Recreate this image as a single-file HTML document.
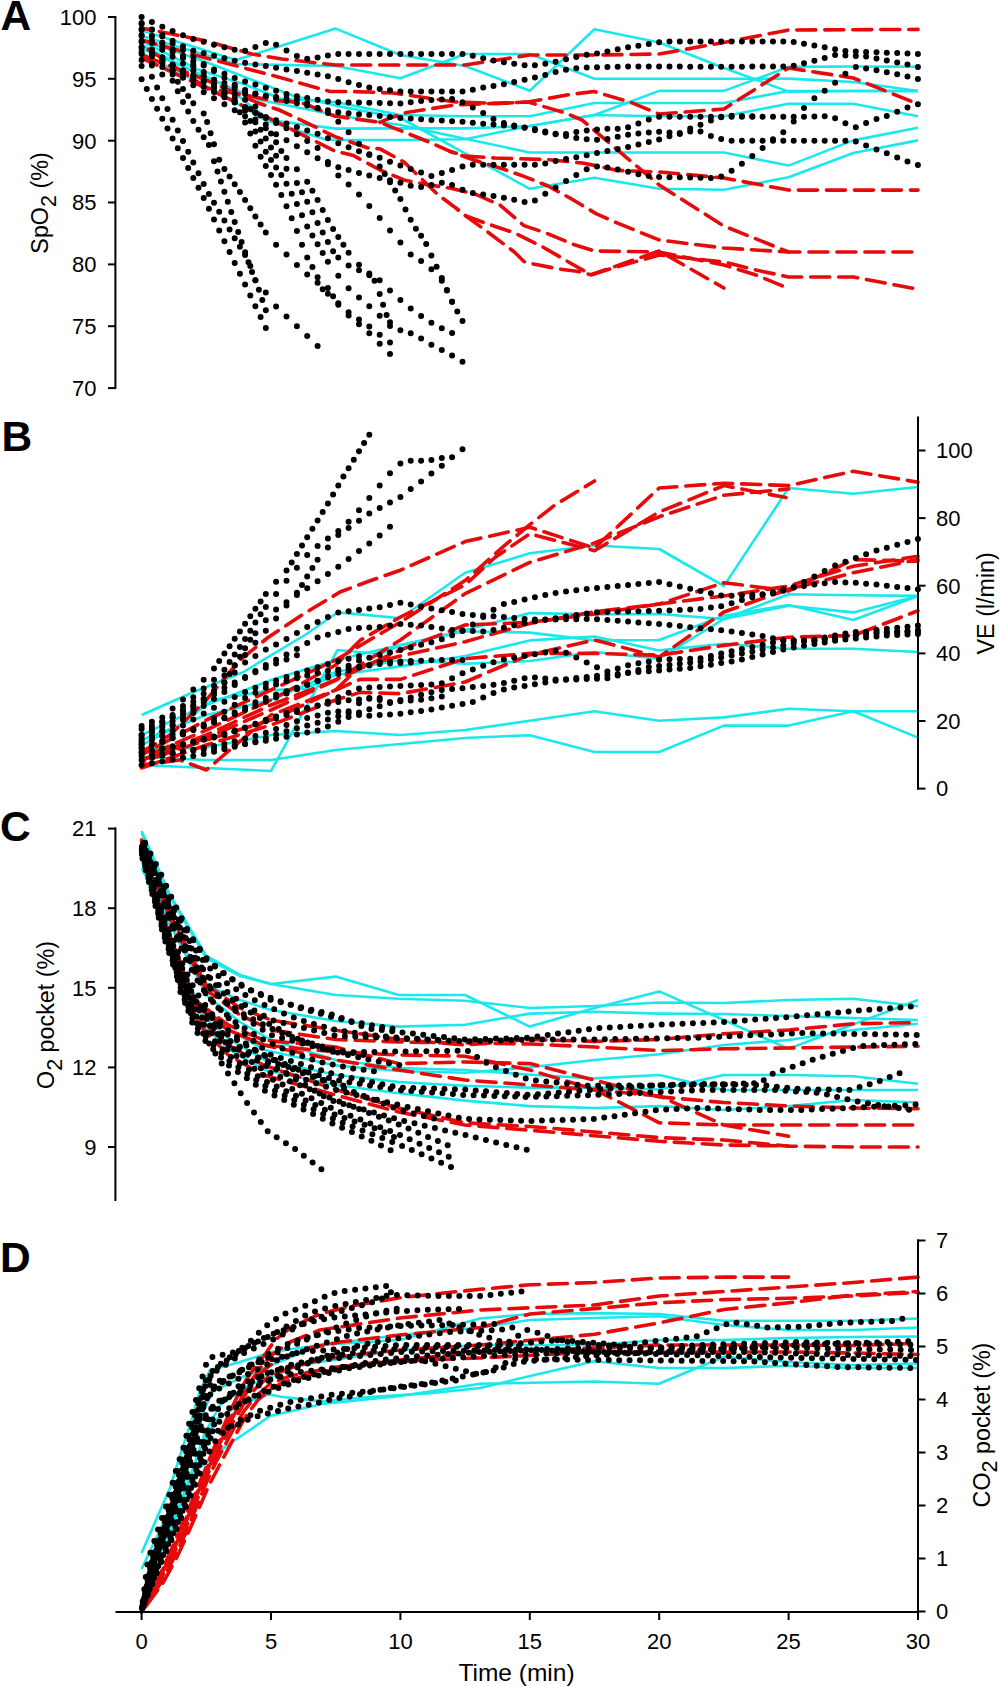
<!DOCTYPE html><html><head><meta charset="utf-8"><style>html,body{margin:0;padding:0;background:#fff;}svg{display:block;}text{font-family:"Liberation Sans",sans-serif;fill:#000;}</style></head><body>
<svg width="1000" height="1686" viewBox="0 0 1000 1686">
<rect width="1000" height="1686" fill="#fff"/>
<g fill="none" stroke="#19e8ec" stroke-width="2.6" stroke-linejoin="round">
<path d="M141.6,30.5 236,60 335.7,28.6 400.4,55 465.1,66 529.8,90.8 594.5,29.3 659.2,42.5 723.9,68 788.6,91.6 853.3,91 918,91"/>
<path d="M141.6,36 236,64 335.7,66 400.4,78.2 465.1,54 529.8,54 594.5,78.8 659.2,78.8 723.9,78.8 788.6,78.6 853.3,82 918,91"/>
<path d="M141.6,41 198,69.6 244,84.3 282,99 335.7,102 400.4,115 465.1,116.3 529.8,116.2 594.5,103 659.2,103 723.9,103 788.6,91 853.3,91 918,91"/>
<path d="M141.6,48.6 185,67.5 223,84.3 269,120 335.7,128.6 400.4,128.4 465.1,128.4 529.8,126 594.5,115 659.2,90.9 723.9,90.9 788.6,66.9 853.3,66.5 918,66.8"/>
<path d="M141.6,52.8 177,71.7 219,92.7 265,120 324,139 335.7,140 400.4,140 465.1,139.2 529.8,126 594.5,115 659.2,116.2 723.9,116.2 788.6,103.7 853.3,103.7 918,116.2"/>
<path d="M141.6,45 200,75 260,100 335.7,115 400.4,125 529.8,152.5 594.5,152.5 659.2,152.5 723.9,152.5 788.6,165.6 853.3,140.4 918,127.8"/>
<path d="M141.6,40 206,62 294,96 335.7,105.6 400.4,118 529.8,188.8 594.5,177.8 659.2,188.8 723.9,189.7 788.6,177.2 853.3,153 918,140.4"/>
<path d="M141.6,715 192.5,692.5 242.5,672.5 305,635 337.5,612.5 360,614.4 400.4,618.3 465.1,572.8 529.8,553.3 594.5,545.5 659.2,549 723.9,586 788.6,488 853.3,493.8 918,487"/>
<path d="M141.6,765 206.3,768 271,771 337.5,650 380,654 400.4,645.6 465.1,630 529.8,613.1 594.5,614.4 659.2,614 723.9,619 788.6,605.8 853.3,612.4 918,596"/>
<path d="M141.6,757 206.3,760 271,760 335.7,750 400.4,744 465.1,738 529.8,735.2 594.5,752 659.2,752 723.9,725.6 788.6,725.6 853.3,711.2 918,737.6"/>
<path d="M141.6,750 206.3,747.5 271,735 335.7,731 400.4,735 465.1,730 529.8,720.8 594.5,711.2 659.2,720.8 723.9,717.4 788.6,708.8 853.3,711.2 918,711.2"/>
<path d="M141.6,745 180,725 212.5,700 271,690 305,688.7 335.7,675 400.4,666.4 465.1,656 529.8,640.4 594.5,636.5 659.2,650.4 723.9,643.8 788.6,648.7 853.3,648.7 918,652"/>
<path d="M141.6,740 206.3,715 271,700 335.7,672 400.4,660 465.1,663.8 529.8,661 594.5,652 659.2,658.6 723.9,619 788.6,594.3 853.3,595.2 918,595.9"/>
<path d="M141.6,735 206.3,705 271,680 335.7,660 400.4,645 465.1,631.3 529.8,632.6 594.5,640.4 659.2,640 723.9,615.7 788.6,605 853.3,620 918,596"/>
<path d="M141.6,831 170,895 206.3,956 240,975 271,984 335.7,976.6 398.8,995 465,995 529.8,1026.6 594.5,1008 659.3,991.4 723.9,1020 788.6,1048.8 918,1000"/>
<path d="M141.6,833 170,897 206.3,958 240,976 271,984 335.7,995 398.8,998.8 465,1000.7 529.8,1008 594.5,1006 659.3,1002.5 723.9,1003 788.6,1000 853.3,998.8 918,1006.2"/>
<path d="M141.6,868 170,925 206.3,985 240,1000 271,1010 335.7,1021 398.8,1026.6 465,1024.7 529.8,1013.6 594.5,1011.8 659.3,1013.6 723.9,1014 788.6,1016 853.3,1018 918,1020"/>
<path d="M141.6,850 165.7,930 196.6,1000 230.2,1030 264.5,1050 335.7,1065.4 398.8,1071 465,1072.8 529.8,1067.3 594.5,1060 659.3,1054.3 723.9,1045 788.6,1040 853.3,1030 918,1023.8"/>
<path d="M141.6,855 165.7,935 196.6,1010 230.2,1040 264.5,1060 335.7,1074.7 398.8,1082 465,1085.8 529.8,1087.6 594.5,1087.6 659.3,1089.5 723.9,1075 788.6,1075 853.3,1076.2 918,1083.8"/>
<path d="M141.6,860 165.7,940 196.6,1020 230.2,1050 264.5,1070 335.7,1085 398.8,1093.2 465,1100.6 529.8,1106.1 594.5,1108 659.3,1106.1 723.9,1110 788.6,1106 853.3,1100 918,1102.5"/>
<path d="M141.6,845 170,925 206.3,995 240,1022 271,1040 335.7,1060 398.8,1068 465,1070 529.8,1074.7 594.5,1078.4 659.3,1075 723.9,1090 788.6,1090 853.3,1090 918,1090"/>
<path d="M141.6,1553 170,1488 178,1462 190,1425 200,1390 210,1370 240,1362 272,1352 320,1345 400,1340 480,1318.5 530,1314 594.3,1313.1 659,1314 724,1320.8 788.7,1320.8 853.5,1320.8 918,1318.5"/>
<path d="M141.6,1569 160,1530 176,1495 190,1474 202,1466 226,1446 250,1430 270,1416 322,1404 400,1396 480,1383.8 594.3,1381.5 659,1383.8 724,1356.8 788.7,1362 853.5,1365 918,1363.5"/>
<path d="M141.6,1600 165,1545 185,1490 200,1450 215,1420 240,1405 269,1394.4 281,1396.8 324,1401.6 344,1399.2 372,1396.8 430,1393.2 480,1388 530,1376 594.3,1361.3 659,1368 724,1368 788.7,1365.8 853.5,1368 918,1368"/>
<path d="M141.6,1605 165,1540 185,1480 200,1420 212,1392 240,1378 272,1365 320,1345 400,1335 480,1327.5 530,1320 594.3,1318 659,1316.3 724,1325 788.7,1330 853.5,1330 918,1327.5"/>
<path d="M141.6,1608 168,1540 188,1485 204,1435 220,1405 250,1385 300,1365 400,1350 480,1345 594.3,1345 659,1340 724,1340 788.7,1338 853.5,1337 918,1336.5"/>
</g>
<g fill="none" stroke="#e60a0a" stroke-width="3.6" stroke-dasharray="19 9" stroke-linecap="round" stroke-linejoin="round">
<path d="M141.6,28 206,41 252,54 282,59 335.7,65 465.1,65 529.8,55 594.5,55 659.2,54 723.9,42.5 788.6,30 918,29.4" stroke-dashoffset="10"/>
<path d="M141.6,40 206,58 271,75 330,91.5 351,91.5 393,93 435,99 456,102 498,103.5 528,102 570,94.5 594,91.5 630,102 659.2,114 723.9,109 788.6,68 853.3,78 918,104" stroke-dashoffset="4"/>
<path d="M449.6,151.2 465.1,156 495,158 548,159.6 584,163.2 617.6,170.4 659.2,172 723.9,178 788.6,190.1 918,190.1" stroke-dashoffset="12"/>
<path d="M141.6,45 207,88 272,100.4 291.2,101.6 305.6,104 324.8,112.4 334.4,116 380,122.4 404,132 428,141.6 449.6,151.2 476,160.8 500,168 524,176.4 548,186 572,199.2 596,213.6 617.6,223.2 659.2,240 723.9,248 788.6,252" stroke-dashoffset="20"/>
<path d="M380,122.4 390,118 406.5,112.5 454.5,105 528,102 564,112.5 582,120 659.2,185 723.9,226 788.6,252 918,252" stroke-dashoffset="1"/>
<path d="M141.6,58 206,88 272,119.6 315.2,141.2 334.4,150.8 353.6,155.6 380,170 404,180 428,184.8 452,188.4 476,194.4 500,205 524,225.6 545.6,232.8 574.4,244.8 594.5,251 659.2,252 723.9,265 756,275 782.7,286" stroke-dashoffset="2"/>
<path d="M141.6,55 206,80 257.6,102.8 279.2,110 315.2,126.8 334.4,136.4 368,148 380,148.8 404,162 437.6,194.4 456.8,208.8 466,216 485.6,223.2 514.4,232.8 543.2,247.2 572,264 591.2,274.8 610.4,268.8 659.2,255 723.9,262 756,270 788.6,277 853.3,277 918,289.3" stroke-dashoffset="26"/>
<path d="M456.8,208.8 466,216 485.6,230.4 504.8,244.8 514.4,252 524,261.6 533.6,264 557.6,268.8 576.8,271.2 591.2,274.8 659.2,251 723.9,288" stroke-dashoffset="17"/>
<path d="M141.6,752 170,735 206.3,700 240,660 268,637.5 305,613 340,592 368,581.5 400.4,570.2 465.1,541.6 529.8,527.3 594.5,548 659.2,488 723.9,483.2 788.6,485.6 853.3,471.2 918,482.2" stroke-dashoffset="3"/>
<path d="M141.6,755 206.3,720 271,690 335.7,660 360,645.6 400.4,622.2 465.1,580.6 503,546.8 529.8,524.7 555,505 594.5,481" stroke-dashoffset="11"/>
<path d="M141.6,758 206.3,730 271,700 335.7,665 360,640.4 400.4,617 465.1,585 495.2,557.2 529.8,533.8 594.5,550.7 659.2,512 723.9,485.6 786,497.6" stroke-dashoffset="18"/>
<path d="M141.6,760 206.3,735 271,705 335.7,680 400.4,640 465.1,593.6 529.8,562.4 594.5,543 659.2,516.8 723.9,495.2 788.6,489" stroke-dashoffset="1"/>
<path d="M141.6,762 206.3,740 271,720 335.7,690 360,666.4 400.4,656 465.1,641.7 529.8,623.5 594.5,611.8 659.2,604 723.9,596 788.6,586 853.3,566.2 918,556.3" stroke-dashoffset="16"/>
<path d="M141.6,765 180,760 206.3,770 271,715 335.7,690 360,679.4 400.4,679.4 465.1,658.6 529.8,653.4 594.5,653.4 659.2,655.3 723.9,645.4 788.6,637.2 853.3,635.5 918,610.8" stroke-dashoffset="6"/>
<path d="M141.6,768 206.3,745 271,725 335.7,700 360,692.4 400.4,693.7 465.1,682 505,665 529.8,654.7 594.5,640 659.2,657 723.9,612 788.6,589.3 853.3,572.8 918,559.6" stroke-dashoffset="1"/>
<path d="M141.6,760 206.3,738 271,710 335.7,680 400.4,650 465.1,625 529.8,622.4 594.5,614 659.2,604 723.9,582.7 788.6,591 853.3,559.6 918,561.3" stroke-dashoffset="2"/>
<path d="M141.6,840 170,915 206.3,985 240,1008 271,1020 335.7,1030.3 398.8,1039.5 465,1045 529.8,1039.5 594.5,1041.4 659.3,1039.5 723.9,1033.8 788.6,1030 853.3,1023.8 918,1022.5" stroke-dashoffset="13"/>
<path d="M141.6,842 170,918 206.3,990 240,1015 271,1030 335.7,1039.5 398.8,1042 465,1043 529.8,1044 594.5,1047 659.3,1050.6 723.9,1048.8 788.6,1048 853.3,1047 918,1046.2" stroke-dashoffset="13"/>
<path d="M141.6,845 164.9,922 194.7,1000 228.2,1025 263.2,1040 335.7,1047 398.8,1063.6 465,1062 529.8,1063.6 594.5,1080.2 659.3,1096.9 723.9,1102.5 788.6,1106 853.3,1108 918,1108.8" stroke-dashoffset="2"/>
<path d="M141.6,848 164.9,925 194.7,1005 228.2,1030 263.2,1045 335.7,1052 398.8,1055 465,1056.2 529.8,1070 594.5,1089.5 659.3,1122.8 723.9,1125 788.6,1125 853.3,1125 918,1125" stroke-dashoffset="7"/>
<path d="M141.6,850 164.9,930 194.7,1015 228.2,1045 263.2,1065 335.7,1089.5 398.8,1108 465,1122.8 529.8,1126.5 594.5,1132 659.3,1137.6 723.9,1140 788.6,1146.2 853.3,1147 918,1147" stroke-dashoffset="2"/>
<path d="M141.6,852 164.9,935 194.7,1020 228.2,1055 263.2,1075 335.7,1095 398.8,1112 465,1125 529.8,1130.2 594.5,1135.7 659.3,1141.3 723.9,1145 788.6,1146" stroke-dashoffset="17"/>
<path d="M141.6,846 164.9,925 194.7,1000 228.2,1030 263.2,1045 335.7,1060 398.8,1070 465,1080 529.8,1085 594.5,1090 659.3,1096 723.9,1125 788.6,1136.2" stroke-dashoffset="13"/>
<path d="M141.6,1612 160,1575 172,1548 184,1520 195,1494 205,1470 214,1448 222,1430 230,1412 238,1395 246,1380 256,1366 266,1353 275,1340 290,1328 320,1314 353,1305.6 403.6,1297.2 480,1289.3 530,1284.8 594.3,1282.5 659,1278 724,1277.1 788.7,1277.1" stroke-dashoffset="1"/>
<path d="M141.6,1612 160,1576 173,1548 185,1521 196,1495 206,1471 215,1450 224,1432 233,1414 242,1397 251,1381 261,1367 273,1354 290,1342 320,1330 400,1318 480,1310 594.3,1305 659,1296 724,1291.5 788.7,1287 853.5,1282.5 918,1277.1" stroke-dashoffset="26"/>
<path d="M141.6,1612 160,1577 174,1549 186,1522 196,1497 206,1474 215,1453 224,1435 233,1417 242,1400 252,1384 264,1370 280,1358 310,1348 340,1342 400,1335 480,1327.5 530,1314 594.3,1308.6 659,1302.8 724,1299.6 788.7,1298.3 853.5,1296 918,1292.4" stroke-dashoffset="18"/>
<path d="M141.6,1612 161,1579 175,1551 187,1525 197,1500 206,1478 215,1458 224,1440 233,1422 243,1405 254,1390 268,1377 290,1368 320,1360 360,1354 400,1350 480,1345 594.3,1334.3 659,1323 724,1309.5 788.7,1302.8 853.5,1295 918,1291.5" stroke-dashoffset="3"/>
<path d="M141.6,1612 162,1581 176,1554 188,1528 198,1503 207,1481 216,1462 225,1445 234,1428 244,1411 256,1396 270,1384 290,1376 330,1368 380,1362 420,1358 480,1352 594.3,1348 659,1345 724,1345 788.7,1345 853.5,1345.5 918,1343.3" stroke-dashoffset="7"/>
<path d="M141.6,1612 163,1583 177,1557 189,1531 200,1506 209,1485 218,1468 227,1451 236,1434 246,1416 258,1400 272,1388 290,1380 320,1372 370,1364 420,1360 480,1358 594.3,1352 659,1352 724,1352 788.7,1352 853.5,1353 918,1354.5" stroke-dashoffset="20"/>
</g>
<g fill="none" stroke="#000" stroke-width="6" stroke-linecap="round">
<path d="M141.6,79.2h0M146.8,89.1h0M151.9,98.9h0M157.1,108.8h0M162.3,118.7h0M167.5,128.5h0M172.6,138.4h0M177.8,148.3h0M183,158.1h0M188.2,168h0M193.3,177.9h0M198.5,187.7h0M203.7,198h0M208.9,208.8h0M214,219.6h0M219.2,230.4h0M224.4,241.3h0M229.6,252.1h0M234.7,262.9h0M239.9,273.8h0M245.1,284.6h0M250.3,295.4h0M255.4,306.2h0M260.6,317.1h0M265.8,327.9h0"/>
<path d="M141.6,66h0M151.9,76.8h0M157.1,87.5h0M162.3,98.2h0M167.5,108.9h0M172.6,119.7h0M177.8,130.4h0M183,141.1h0M188.2,151.8h0M193.3,162.6h0M198.5,173.3h0M203.7,184h0M208.9,193.9h0M214,202.8h0M219.2,211.7h0M224.4,220.6h0M229.6,229.4h0M234.7,238.3h0M239.9,246.8h0M245.1,255.1h0M250.3,266h0M255.4,280.2h0M258.9,289.7h0M262.3,299.9h0M265.8,310.3h0"/>
<path d="M141.6,54h0M151.9,65.4h0M162.3,74.6h0M172.6,80.7h0M177.8,91.2h0M183,102h0M188.2,111.5h0M193.3,120.9h0M198.5,129.7h0M203.7,137.3h0M208.9,145h0M214,161.2h0M217.5,171.5h0M220.9,181.6h0M224.4,191.7h0M227.8,201.8h0M231.3,211.9h0M234.7,221.9h0M238.2,232h0M241.6,242.1h0M245.1,252.2h0M248.5,262.3h0M252,272h0M255.4,280.3h0M265.8,292.5h0M276.1,306.6h0M286.5,316.4h0M296.9,326.3h0M307.2,336.1h0M317.6,346h0"/>
<path d="M141.6,41h0M151.9,51.6h0M162.3,62.2h0M172.6,74.5h0M177.8,81.7h0M183,88.9h0M188.2,96.1h0M193.3,103.3h0M203.7,113.4h0M207.1,122h0M210.6,133.2h0M214,144.3h0M219.2,159.8h0M224.4,168.9h0M229.6,176.6h0M234.7,184.2h0M239.9,191.9h0M245.1,200.1h0M250.3,208.3h0M255.4,216.4h0M260.6,224.4h0M265.8,232.4h0M276.1,244.7h0M286.5,254.6h0M296.9,265.1h0M307.2,274.4h0M317.6,282.8h0M327.9,288h0M333.1,296.2h0M338.3,304.8h0M348.6,315.4h0M359,324.2h0M369.3,333.3h0M379.7,343.7h0M390,353.9h0"/>
<path d="M141.6,29h0M151.9,36h0M162.3,43h0M172.6,50h0M183,57.6h0M193.3,66.4h0M203.7,75.3h0M214,84.2h0M224.4,92.5h0M234.7,101.9h0M239.9,112.2h0M245.1,122.6h0M250.3,133.6h0M255.4,145.7h0M260.6,156.8h0M265.8,165.9h0M271,175h0M276.1,184.7h0M281.3,195.1h0M286.5,206.2h0M291.7,218.2h0M296.9,230.9h0M302,244.7h0M307.2,257.4h0M312.4,267.1h0M317.6,277.2h0M322.7,289.3h0M327.9,293.8h0M338.3,303.2h0M348.6,312.2h0M359,319.6h0M369.3,326.6h0M379.7,334.7h0M390,342.6h0"/>
<path d="M141.6,35h0M151.9,40.8h0M162.3,46.5h0M172.6,52.3h0M183,58.1h0M193.3,64.5h0M203.7,72.1h0M214,79.7h0M224.4,87.3h0M234.7,93.8h0M245.1,99.7h0M250.3,109.1h0M255.4,119.5h0M260.6,129.7h0M265.8,138.6h0M271,147.4h0M276.1,155.7h0M286.5,168.7h0M296.9,182.9h0M302,192.3h0M307.2,201.8h0M312.4,212.3h0M317.6,222.9h0M322.7,232.6h0M327.9,241.9h0M333.1,251.3h0M338.3,257.5h0M348.6,265.5h0M359,270.3h0M369.3,273.4h0M379.7,280.3h0M390,290.5h0M400.4,300.1h0M410.7,308.4h0M421.1,316h0M431.4,322.8h0M441.8,328.3h0M452.1,333h0"/>
<path d="M141.6,23h0M151.9,29.8h0M162.3,36.6h0M172.6,43.4h0M183,50.1h0M193.3,56.9h0M203.7,63.9h0M214,70.9h0M224.4,77.8h0M234.7,84.8h0M245.1,94h0M255.4,106.4h0M260.6,115.4h0M265.8,124.5h0M271,133.4h0M276.1,142.3h0M281.3,151.1h0M286.5,157.9h0M296.9,169.3h0M307.2,181.7h0M312.4,190.8h0M317.6,200h0M322.7,210h0M327.9,220h0M333.1,229.1h0M338.3,237h0M343.4,244.8h0M348.6,252.7h0M359,264.8h0M369.3,275.2h0M374.5,280.7h0M379.7,294.1h0M383.1,304.8h0M386.6,315.1h0M390,322.2h0M400.4,330.2h0M410.7,333.2h0M421.1,338.5h0M431.4,344.7h0M441.8,350.1h0M452.1,355.5h0M462.5,361.7h0"/>
<path d="M141.6,47h0M151.9,52.8h0M162.3,58.7h0M172.6,64.5h0M183,70.4h0M193.3,76.2h0M203.7,82.2h0M214,88.4h0M224.4,94.6h0M234.7,100.8h0M245.1,107.1h0M255.4,112.7h0M265.8,117.9h0M276.1,123.1h0M286.5,128.2h0M296.9,134.3h0M307.2,140.9h0M317.6,148.1h0M327.9,161.9h0M338.3,175.6h0M348.6,184.5h0M359,194.4h0M369.3,206.1h0M379.7,218.1h0M390,230.6h0M400.4,242.6h0M410.7,254.4h0M421.1,261.1h0M431.4,269.3h0M441.8,280.7h0M446.9,290.5h0M452.1,301.7h0M457.3,311.5h0M462.5,321.1h0"/>
<path d="M141.6,60h0M151.9,63.5h0M162.3,67.1h0M172.6,70.6h0M183,74.2h0M193.3,77.7h0M203.7,80.9h0M214,83.5h0M224.4,86.1h0M234.7,88.7h0M245.1,91.3h0M255.4,93.9h0M265.8,95.7h0M276.1,97h0M286.5,98.3h0M296.9,99.6h0M307.2,103.3h0M317.6,108.2h0M327.9,113h0M338.3,121.7h0M348.6,132.3h0M359,143.7h0M369.3,155.1h0M379.7,166.5h0M384.8,173.9h0M390,182.2h0M395.2,190.4h0M400.4,199.1h0M405.5,209.5h0M410.7,219.8h0M415.9,228.8h0M421.1,235.7h0M426.2,244h0M431.4,255.4h0M436.6,266.7h0M441.8,278.1h0M446.9,289.9h0M452.1,301.7h0"/>
<path d="M141.6,52h0M151.9,56.6h0M162.3,61.2h0M172.6,65.8h0M183,70.4h0M193.3,75h0M203.7,80.2h0M214,86.5h0M224.4,92.8h0M234.7,97.9h0M245.1,110.8h0M250.3,121.1h0M255.4,131.5h0M260.6,141.6h0M265.8,151.8h0M271,160h0M276.1,167.6h0M281.3,175.1h0M286.5,183.8h0M291.7,193.7h0M296.9,204h0M302,215.3h0M307.2,226.5h0M312.4,235.4h0M317.6,244.2h0M322.7,253h0M327.9,261.8h0M338.3,275.7h0M348.6,288.3h0M359,297.5h0M369.3,306.3h0M379.7,315.7h0M390,326h0"/>
<path d="M141.6,17h0M151.9,21.9h0M162.3,26.7h0M172.6,31.1h0M183,35.2h0M193.3,38.9h0M203.7,41.8h0M214,44.7h0M224.4,47.2h0M234.7,49.7h0M245.1,50.7h0M255.4,47.1h0M265.8,43h0M276.1,44.8h0M286.5,50.5h0M296.9,56.1h0M307.2,58.8h0M317.6,57.5h0M327.9,55.5h0M338.3,54h0M348.6,54h0M359,54h0M369.3,54h0M379.7,54h0M390,54h0M400.4,54h0M410.7,54h0M421.1,54h0M431.4,54h0M441.8,54h0M452.1,54h0M462.5,54h0M472.8,55.8h0M483.2,58.3h0M493.5,60.5h0M503.9,62.3h0M514.2,63.8h0M524.6,65.3h0M534.9,65.2h0M545.3,63.7h0M555.6,61.8h0M566,59.3h0M576.3,56.9h0M586.7,54.8h0M597,53.4h0M607.4,51.6h0M617.7,49.3h0M628.1,47.3h0M638.4,45.7h0M648.8,44h0M659.1,42.3h0M669.5,41.4h0M679.8,41.4h0M690.2,41.4h0M700.5,41.4h0M710.9,41.4h0M721.2,41.4h0M731.6,41.5h0M741.9,41.5h0M752.3,41.5h0M762.6,41.5h0M773,41.5h0M783.3,41.5h0M793.7,42.1h0M804,43.8h0M814.4,45.6h0M824.7,47.3h0M835.1,49.2h0M845.4,51h0M855.8,51.4h0M866.1,51.9h0M876.5,52.3h0M886.8,52.7h0M897.2,53.1h0M907.5,53.6h0M917.9,54h0"/>
<path d="M141.6,24h0M151.9,29.6h0M162.3,35.1h0M172.6,40.7h0M183,46.2h0M193.3,50.8h0M203.7,53.3h0M214,55.8h0M224.4,58.3h0M234.7,60.7h0M245.1,62.8h0M255.4,64.5h0M265.8,66.1h0M276.1,67.8h0M286.5,69.4h0M296.9,71.1h0M307.2,72.8h0M317.6,74.5h0M327.9,76.2h0M338.3,79.1h0M348.6,82.3h0M359,84.9h0M369.3,87.4h0M379.7,89h0M390,90.3h0M400.4,91.5h0M410.7,91.5h0M421.1,91.5h0M431.4,91.5h0M441.8,91.5h0M452.1,91.5h0M462.5,91.5h0M472.8,89.7h0M483.2,87.6h0M493.5,86.1h0M503.9,84.2h0M514.2,82h0M524.6,79.8h0M534.9,77.6h0M545.3,75h0M555.6,72h0M566,69.8h0M576.3,68.3h0M586.7,67.4h0M597,67.2h0M607.4,67h0M617.7,66.8h0M628.1,66.6h0M638.4,66.6h0M648.8,66.6h0M659.1,66.6h0M669.5,66.6h0M679.8,66.6h0M690.2,66.7h0M700.5,66.7h0M710.9,66.7h0M721.2,66.7h0M731.6,66.7h0M741.9,66.7h0M752.3,66.6h0M762.6,66.5h0M773,66.4h0M783.3,66.4h0M793.7,65.7h0M804,63.3h0M814.4,60.8h0M824.7,57.9h0M835.1,55h0M845.4,55.5h0M855.8,55.9h0M866.1,56.5h0M876.5,58.5h0M886.8,60.5h0M897.2,62.5h0M907.5,64.4h0M917.9,67h0"/>
<path d="M141.6,30h0M151.9,36.4h0M162.3,42.8h0M172.6,49.2h0M183,55.7h0M193.3,61.3h0M203.7,65.5h0M214,69.6h0M224.4,73.8h0M234.7,77.9h0M245.1,81.5h0M255.4,84.6h0M265.8,87.7h0M276.1,90.8h0M286.5,94h0M296.9,96.2h0M307.2,98h0M317.6,99.8h0M327.9,101.6h0M338.3,102.2h0M348.6,102.4h0M359,102.6h0M369.3,102.8h0M379.7,103.1h0M390,103.3h0M400.4,103.5h0M410.7,102.3h0M421.1,101h0M431.4,99.9h0M441.8,99.5h0M452.1,99.1h0M462.5,102.2h0M472.8,107.4h0M483.2,113h0M493.5,118.9h0M503.9,122.9h0M514.2,125.4h0M524.6,127.8h0M534.9,130.2h0M545.3,132.5h0M555.6,134.2h0M566,133.9h0M576.3,132h0M586.7,130.5h0M597,129.4h0M607.4,128.8h0M617.7,128.8h0M628.1,127.2h0M638.4,123.6h0M648.8,119.5h0M659.1,116.8h0M669.5,116.8h0M679.8,116.8h0M690.2,116.8h0M700.5,116.8h0M710.9,116.8h0M721.2,116.8h0M731.6,116.8h0M741.9,116.8h0M752.3,116.8h0M762.6,116.8h0M773,116.8h0M783.3,116.8h0M793.7,116.8h0M804,116.7h0M814.4,116.5h0M824.7,116.2h0M835.1,118.3h0M845.4,123.2h0M855.8,127.3h0M866.1,123.1h0M876.5,119.1h0M886.8,115.9h0M897.2,111.7h0M907.5,107.6h0M917.9,104.3h0"/>
<path d="M141.6,36h0M151.9,42.9h0M162.3,49.8h0M172.6,56.7h0M183,63.6h0M193.3,70.6h0M203.7,76.2h0M214,79.7h0M224.4,83.1h0M234.7,86.6h0M245.1,90h0M255.4,93.5h0M265.8,96.3h0M276.1,98.6h0M286.5,101h0M296.9,103.3h0M307.2,105.6h0M317.6,107.9h0M327.9,110.2h0M338.3,112.2h0M348.6,113.2h0M359,114.2h0M369.3,115.1h0M379.7,116.1h0M390,117h0M400.4,118h0M410.7,118.6h0M421.1,119.3h0M431.4,119.9h0M441.8,120.6h0M452.1,121.2h0M462.5,121.8h0M472.8,122.7h0M483.2,123.7h0M493.5,124.6h0M503.9,125.6h0M514.2,126.6h0M524.6,127.5h0M534.9,129.1h0M545.3,131.5h0M555.6,133.8h0M566,136h0M576.3,138h0M586.7,139.2h0M597,139.7h0M607.4,139h0M617.7,136.7h0M628.1,134.7h0M638.4,133.6h0M648.8,132.6h0M659.1,131.7h0M669.5,132.5h0M679.8,133.1h0M690.2,128.6h0M700.5,124.8h0M710.9,120.5h0M721.2,117.3h0M731.6,115.7h0M741.9,116h0M752.3,116.3h0"/>
<path d="M141.6,42h0M151.9,49.6h0M162.3,57.2h0M172.6,64.9h0M183,72.5h0M193.3,80.1h0M203.7,86.8h0M214,92h0M224.4,97.2h0M234.7,102.4h0M245.1,107.5h0M255.4,112.7h0M265.8,116.9h0M276.1,120.3h0M286.5,123.6h0M296.9,127h0M307.2,130.4h0M317.6,133.7h0M327.9,138.3h0M338.3,143.2h0M348.6,147.3h0M359,151.2h0M369.3,154.3h0M379.7,157.8h0M390,161.7h0M400.4,165.5h0M410.7,169h0M421.1,172.5h0M431.4,175.9h0M441.8,173.1h0M452.1,170.1h0M462.5,166.4h0M472.8,164.8h0M483.2,164.8h0M493.5,164.8h0M503.9,164.8h0M514.2,164.8h0M524.6,164.8h0M534.9,164.8h0M545.3,163.5h0M555.6,161.1h0M566,159h0M576.3,157.3h0M586.7,155.3h0M597,153h0M607.4,150.9h0M617.7,149h0M628.1,147h0M638.4,144.5h0M648.8,142.1h0M659.1,139.4h0M669.5,136.3h0M679.8,134h0M690.2,131.6h0M700.5,131.6h0M710.9,135.9h0M721.2,139.1h0M731.6,140.8h0M741.9,140.8h0M752.3,140.8h0M762.6,140.8h0M773,140.8h0M783.3,140.8h0M793.7,140.8h0M804,140.8h0M814.4,140.8h0M824.7,140.8h0M835.1,140.8h0M845.4,140.8h0M855.8,141.5h0M866.1,145.4h0M876.5,149.6h0M886.8,153.3h0M897.2,157.5h0M907.5,161.6h0M917.9,165.1h0"/>
<path d="M141.6,48h0M151.9,55.4h0M162.3,62.9h0M172.6,70.3h0M183,77.8h0M193.3,85.2h0M203.7,92.2h0M214,98.2h0M224.4,104.2h0M234.7,110.3h0M245.1,116.3h0M255.4,122.3h0M265.8,128.3h0M276.1,134.3h0M286.5,140.3h0M296.9,146.3h0M307.2,152.2h0M317.6,158.2h0M327.9,164.2h0M338.3,167.3h0M348.6,170h0M359,172.9h0M369.3,175.6h0M379.7,177.9h0M390,180.2h0M400.4,182.7h0M410.7,185.8h0M421.1,187.1h0M431.4,185.1h0M441.8,182.7h0M452.1,185h0M462.5,189.8h0M472.8,192.9h0M483.2,194.4h0M493.5,196h0M503.9,197.7h0M514.2,199.7h0M524.6,201.9h0M534.9,200.5h0M545.3,193.8h0M555.6,187.4h0M566,181h0M576.3,175.1h0M586.7,169.2h0M597,166.5h0M607.4,167.6h0M617.7,169.4h0M628.1,171.8h0M638.4,174.2h0M648.8,176h0M659.1,176.9h0M669.5,177.2h0M679.8,177.3h0M690.2,177.5h0M700.5,177.7h0M710.9,177.9h0M721.2,176.4h0M731.6,170.7h0M741.9,163.8h0M752.3,156h0M762.6,148h0M773,139.3h0M783.3,132.3h0M793.7,121.4h0M804,108h0M814.4,98.3h0M824.7,90.7h0M835.1,82.7h0M845.4,73.8h0M855.8,67h0M866.1,68.6h0M876.5,70.3h0M886.8,72.2h0M897.2,74.3h0M907.5,76.6h0M917.9,79h0"/>
<path d="M141.6,726h0M151.9,721.8h0M162.3,717.6h0M172.6,708.6h0M183,699.5h0M193.3,689.6h0M203.7,679.7h0M214,668.5h0M219.2,661.1h0M224.4,653.6h0M229.6,646.2h0M234.7,638.8h0M239.9,631.4h0M245.1,623.8h0M250.3,616.3h0M255.4,608.8h0M260.6,601.4h0M265.8,593.9h0M276.1,581.7h0M286.5,570.4h0M291.7,562.5h0M296.9,554h0M302,545.6h0M307.2,537.2h0M312.4,528.8h0M317.6,520.5h0M322.7,512.1h0M327.9,503.5h0M333.1,494.5h0M338.3,485.6h0M343.4,476.6h0M348.6,468.2h0M353.8,459.7h0M359,451.3h0M364.1,442.9h0M369.3,434.8h0"/>
<path d="M141.6,735h0M151.9,728.3h0M162.3,721.6h0M172.6,714.9h0M183,706.1h0M193.3,697.3h0M203.7,688.5h0M214,679.7h0M224.4,669.7h0M229.6,662.1h0M234.7,654.5h0M239.9,646.9h0M245.1,639.1h0M250.3,630.8h0M255.4,622.5h0M260.6,614.3h0M265.8,607.1h0M276.1,594h0M286.5,580.8h0M296.9,567.7h0M307.2,555.1h0M317.6,546h0M327.9,538.4h0M338.3,531h0M348.6,521.7h0M359,510.3h0M369.3,498h0M379.7,485.6h0M390,473.2h0M400.4,463.4h0M410.7,460.8h0M421.1,460.8h0M431.4,459.9h0M441.8,458.1h0M452.1,457.3h0M462.5,449.3h0"/>
<path d="M141.6,740h0M151.9,732.5h0M162.3,724.9h0M172.6,717.4h0M183,709.7h0M193.3,701.7h0M203.7,693.7h0M214,685.7h0M224.4,675.6h0M234.7,665.2h0M245.1,654.9h0M255.4,642.8h0M265.8,630.7h0M276.1,618.6h0M286.5,605.6h0M296.9,592.7h0M302,585h0M307.2,576.6h0M312.4,568.1h0M317.6,559.7h0M327.9,547.4h0M338.3,535.1h0M348.6,527.9h0M359,520.8h0M369.3,513.6h0M379.7,508.1h0M390,502.6h0M400.4,496.9h0M410.7,489.1h0M421.1,481.4h0M431.4,473.6h0M441.8,465.8h0"/>
<path d="M141.6,745h0M151.9,738.3h0M162.3,731.5h0M172.6,724.8h0M183,717.8h0M193.3,710h0M203.7,702.2h0M214,694.5h0M224.4,682.7h0M229.6,674h0M234.7,665.4h0M239.9,656.8h0M245.1,648.2h0M250.3,639.7h0M255.4,633.2h0M265.8,620.3h0M276.1,609.4h0M286.5,602.2h0M296.9,595.1h0M307.2,588.2h0M317.6,581.2h0M327.9,574.1h0M338.3,566.7h0M348.6,558.9h0M359,551.1h0M369.3,543.4h0M379.7,535.4h0M390,526.8h0"/>
<path d="M141.6,735h0M151.9,731.3h0M162.3,727.6h0M172.6,721.2h0M183,714.6h0M193.3,706.7h0M203.7,698.8h0M214,690.7h0M224.4,682.6h0M234.7,672.5h0M245.1,662.4h0M255.4,656h0M265.8,649.6h0M276.1,644.4h0M286.5,639.1h0M296.9,632.9h0M307.2,626.9h0M317.6,622h0M327.9,617.1h0M338.3,612.4h0M348.6,611.2h0M359,609.9h0M369.3,608.6h0M379.7,607.3h0M390,605h0M400.4,602.7h0M410.7,604.6h0M421.1,606.5h0M431.4,608.4h0M441.8,610.3h0M452.1,612.1h0M462.5,613.9h0M472.8,614.9h0M483.2,615.6h0M493.5,616.3h0M503.9,616.9h0M514.2,618h0M524.6,619h0M534.9,619.6h0M545.3,619.5h0M555.6,619.4h0M566,619.3h0M576.3,619.2h0M586.7,619.1h0M597,619.2h0M607.4,620h0M617.7,620.8h0M628.1,621.6h0M638.4,622.4h0M648.8,623.2h0M659.1,624h0M669.5,625.1h0M679.8,626.1h0M690.2,627.2h0M700.5,628.2h0M710.9,629.2h0M721.2,630.2h0M731.6,631.6h0M741.9,633h0M752.3,634.4h0M762.6,636.1h0M773,638.3h0M783.3,640.5h0M793.7,640.5h0M804,640.5h0M814.4,640.5h0M824.7,639.2h0M835.1,637.9h0M845.4,636.6h0M855.8,635.1h0M866.1,632.4h0M876.5,629.9h0M886.8,628.8h0M897.2,627.8h0M907.5,626.7h0M917.9,625.6h0"/>
<path d="M141.6,742h0M151.9,736.6h0M162.3,731.2h0M172.6,725.8h0M183,720h0M193.3,713h0M203.7,706h0M214,699h0M224.4,692h0M234.7,685h0M245.1,678.1h0M255.4,671.1h0M265.8,665h0M276.1,659.7h0M286.5,654.4h0M296.9,649h0M307.2,643.1h0M317.6,637.4h0M327.9,634.8h0M338.3,631.9h0M348.6,628.9h0M359,628.1h0M369.3,627.5h0M379.7,627h0M390,625.6h0M400.4,624.1h0M410.7,624.7h0M421.1,625.4h0M431.4,626.9h0M441.8,628.5h0M452.1,630h0M462.5,630.5h0M472.8,631h0M483.2,631.5h0M493.5,630.1h0M503.9,627.7h0M514.2,625.3h0M524.6,623.1h0M534.9,621.2h0M545.3,619.7h0M555.6,618.2h0M566,616.6h0M576.3,615.1h0M586.7,613.6h0M597,612.3h0M607.4,612.1h0M617.7,611.8h0M628.1,611.6h0M638.4,611.3h0M648.8,611.1h0M659.1,610.8h0M669.5,610.4h0M679.8,609.9h0M690.2,609.4h0M700.5,608.9h0M710.9,607.5h0M721.2,606.2h0M731.6,603.3h0M741.9,600h0M752.3,597.3h0M762.6,594.8h0M773,592.3h0M783.3,589.6h0M793.7,587.3h0M804,586h0M814.4,584.6h0M824.7,583.2h0M835.1,582h0M845.4,582.4h0M855.8,582.8h0M866.1,583.7h0M876.5,584.5h0M886.8,585.7h0M897.2,586.9h0M907.5,588.1h0M917.9,589.3h0"/>
<path d="M141.6,748h0M151.9,744.5h0M162.3,741h0M172.6,737.5h0M183,733.9h0M193.3,730h0M203.7,726.1h0M214,722.2h0M224.4,718.2h0M234.7,714.1h0M245.1,710h0M255.4,705.8h0M265.8,701.7h0M276.1,697.5h0M286.5,693.4h0M296.9,689.3h0M307.2,685.1h0M317.6,681h0M327.9,676h0M338.3,670.9h0M348.6,665.7h0M359,660.5h0M369.3,657.7h0M379.7,655.1h0M390,652.6h0M400.4,650h0M410.7,647.4h0M421.1,644.8h0M431.4,642.2h0M441.8,639.3h0M452.1,635.2h0M462.5,631.1h0M472.8,624.5h0M483.2,617.1h0M493.5,609.7h0M503.9,604.1h0M514.2,601.9h0M524.6,599.6h0M534.9,597.3h0M545.3,595.1h0M555.6,592.9h0M566,591.4h0M576.3,590.2h0M586.7,589.1h0M597,588h0M607.4,587h0M617.7,586h0M628.1,585h0M638.4,584h0M648.8,583h0M659.1,582h0M669.5,584.2h0M679.8,586.4h0M690.2,588.7h0M700.5,590.9h0M710.9,593.2h0M721.2,595.4h0M731.6,595.7h0M741.9,595.2h0M752.3,594.8h0M762.6,594.3h0M773,593.3h0M783.3,590.8h0M793.7,587.6h0M804,582h0M814.4,576.5h0M824.7,571h0M835.1,565.6h0M845.4,561.8h0M855.8,558h0M866.1,554.3h0M876.5,550.6h0M886.8,547.7h0M897.2,544.8h0M907.5,541.9h0M917.9,539h0"/>
<path d="M141.6,752h0M151.9,750.1h0M162.3,748.2h0M172.6,746.3h0M183,744.2h0M193.3,741.7h0M203.7,739.1h0M214,736.5h0M224.4,733.7h0M234.7,730.6h0M245.1,727.5h0M255.4,724.4h0M265.8,721.3h0M276.1,718.2h0M286.5,715h0M296.9,711.9h0M307.2,708.8h0M317.6,705.7h0M327.9,701.6h0M338.3,697.2h0M348.6,692.8h0M359,688.4h0M369.3,687.5h0M379.7,687h0M390,686.5h0M400.4,686h0M410.7,685.5h0M421.1,685h0M431.4,684.4h0M441.8,683.2h0M452.1,678.2h0M462.5,673.3h0M472.8,669.4h0M483.2,665.8h0M493.5,662.2h0M503.9,659.4h0M514.2,657.6h0M524.6,655.9h0M534.9,654.2h0M545.3,652.4h0M555.6,650.7h0M566,652.8h0M576.3,657.6h0M586.7,662.5h0M597,667.3h0M607.4,671.6h0M617.7,668.4h0M628.1,665.2h0M638.4,663.3h0M648.8,661.5h0M659.1,659.7h0M669.5,659.3h0M679.8,659.1h0M690.2,658.8h0M700.5,658.3h0M710.9,655.9h0M721.2,653.6h0M731.6,651.3h0M741.9,649.1h0M752.3,646.9h0M762.6,644.8h0M773,642.6h0M783.3,640.5h0M793.7,640.5h0M804,640.5h0M814.4,640.5h0M824.7,639.2h0M835.1,637.9h0M845.4,636.6h0M855.8,635.3h0M866.1,634.5h0M876.5,633.6h0M886.8,632.7h0M897.2,631.8h0M907.5,630.9h0M917.9,630h0"/>
<path d="M141.6,756h0M151.9,754.9h0M162.3,753.8h0M172.6,752.8h0M183,751.7h0M193.3,750.7h0M203.7,749.6h0M214,748.6h0M224.4,747.3h0M234.7,745.6h0M245.1,744h0M255.4,742.3h0M265.8,740.7h0M276.1,738.8h0M286.5,736.7h0M296.9,734.6h0M307.2,732.6h0M317.6,730.5h0M327.9,726.4h0M338.3,721.8h0M348.6,717.1h0M359,712.5h0M369.3,709.2h0M379.7,706.2h0M390,703.1h0M400.4,700h0M410.7,697.4h0M421.1,694.8h0M431.4,692.2h0M441.8,689.9h0M452.1,689h0M462.5,688.2h0M472.8,687.1h0M483.2,685.9h0M493.5,684.7h0M503.9,683.1h0M514.2,680.7h0M524.6,678.2h0M534.9,677.5h0M545.3,678.5h0M555.6,679.6h0M566,679.8h0M576.3,679.4h0M586.7,679.1h0M597,678.7h0M607.4,678.2h0M617.7,675.4h0M628.1,672.6h0M638.4,669.9h0M648.8,667.1h0M659.1,665.9h0M669.5,664.9h0M679.8,663.8h0M690.2,662.8h0M700.5,661.6h0M710.9,659.6h0M721.2,657.6h0M731.6,655.6h0M741.9,653.5h0M752.3,651.5h0M762.6,649.5h0M773,647.4h0M783.3,645.4h0M793.7,643.3h0M804,641.3h0M814.4,639.4h0M824.7,637.5h0M835.1,635.5h0M845.4,633.6h0M855.8,632h0M866.1,632h0M876.5,632h0M886.8,632h0M897.2,632h0M907.5,632h0M917.9,632h0"/>
<path d="M141.6,760h0M151.9,757.8h0M162.3,755.7h0M172.6,753.5h0M183,751.5h0M193.3,749.7h0M203.7,747.9h0M214,746h0M224.4,743.9h0M234.7,741.3h0M245.1,738.7h0M255.4,736.1h0M265.8,732.8h0M276.1,728.9h0M286.5,725.1h0M296.9,721.2h0M307.2,718.1h0M317.6,715.5h0M327.9,712.8h0M338.3,711.5h0M348.6,713.2h0M359,714.9h0M369.3,715.8h0M379.7,715.1h0M390,714.5h0M400.4,713.7h0M410.7,712.3h0M421.1,710.9h0M431.4,709.4h0M441.8,707.6h0M452.1,705.7h0M462.5,703.9h0M472.8,702h0M483.2,697.5h0M493.5,692.9h0M503.9,689.4h0M514.2,687.6h0M524.6,685.9h0M534.9,684.2h0M545.3,682.4h0M555.6,680.7h0M566,679.3h0M576.3,678.1h0M586.7,676.9h0M597,675.8h0M607.4,674.9h0M617.7,674h0M628.1,673.1h0M638.4,672.1h0M648.8,671.3h0M659.1,670.5h0M669.5,669.6h0M679.8,668.8h0M690.2,668h0M700.5,666.3h0M710.9,664.7h0M721.2,663h0M731.6,661.4h0M741.9,659.5h0M752.3,657.1h0M762.6,654.6h0M773,652.1h0M783.3,649.6h0M793.7,647.4h0M804,645.8h0M814.4,644.1h0M824.7,642.4h0M835.1,640.8h0M845.4,639.5h0M855.8,638.4h0M866.1,637.4h0M876.5,636.4h0M886.8,635.6h0M897.2,635.1h0M907.5,634.6h0M917.9,634h0"/>
<path d="M141.6,738h0M151.9,736.9h0M162.3,735.8h0M172.6,734.4h0M183,732h0M193.3,729.6h0M203.7,726.4h0M214,721.9h0M224.4,717.4h0M234.7,712.6h0M245.1,707.5h0M255.4,702.3h0M265.8,698.1h0M276.1,694.6h0M286.5,691.2h0M296.9,687.7h0M307.2,684.3h0M317.6,680.8h0M327.9,677.4h0M338.3,673.9h0M348.6,670.5h0M359,667.6h0M369.3,664.9h0M379.7,662.1h0M390,661.8h0M400.4,661.5h0M410.7,661.1h0M421.1,660.7h0M431.4,660.3h0M441.8,660h0M452.1,660h0M462.5,660h0"/>
<path d="M141.6,765h0M151.9,763.2h0M162.3,761.4h0M172.6,759.6h0M183,757.8h0M193.3,756.1h0M203.7,754.1h0M214,751.7h0M224.4,749.3h0M234.7,746.7h0M245.1,744h0M255.4,741.2h0M265.8,738.1h0M276.1,734.6h0M286.5,731.2h0M296.9,728.2h0M307.2,725.4h0M317.6,722.7h0M327.9,719.5h0M338.3,716.2h0M348.6,711.2h0M359,703.3h0M369.3,698.1h0M379.7,700.1h0M390,701.9h0M400.4,701.3h0M410.7,700.6h0M421.1,699.8h0M431.4,698.2h0M441.8,696.6h0"/>
<path d="M141.6,748h0M151.9,745h0M162.3,741.9h0M172.6,738.3h0M183,734.5h0M193.3,729.6h0M203.7,724.6h0M214,718.2h0M224.4,711.7h0M234.7,704.8h0M245.1,698h0M255.4,692.8h0M265.8,687.7h0M276.1,684.4h0M286.5,681.1h0M296.9,678.2h0M307.2,675.4h0M317.6,672.7h0M327.9,670.9h0M338.3,669.6h0M348.6,668.2h0M359,666.8h0M369.3,665.4h0M379.7,664h0M390,663.5h0M400.4,663h0M410.7,662.5h0"/>
<path d="M141.6,744h0M151.9,739.9h0M162.3,735.9h0M172.6,730.7h0M183,725.4h0M193.3,719.5h0M203.7,713.6h0M214,707.7h0M224.4,701.8h0M234.7,696.9h0M245.1,692h0M255.4,687.8h0M265.8,683.7h0M276.1,680.4h0M286.5,677.1h0M296.9,673.8h0M307.2,670.5h0M317.6,667.2h0M327.9,664.1h0M338.3,661.2h0M348.6,658.7h0M359,656.3h0"/>
<path d="M141.6,753h0M151.9,751h0M162.3,748.9h0M172.6,746.9h0M183,744.8h0M193.3,742.3h0M203.7,739.8h0M214,737.4h0M224.4,734.9h0M234.7,731.4h0M245.1,728h0M255.4,723.8h0M265.8,719.7h0M276.1,716.4h0M286.5,713.1h0M296.9,710.4h0M307.2,708h0M317.6,705.6h0M327.9,703.7h0M338.3,702h0M348.6,700.2h0M359,699.4h0M369.3,698.7h0M379.7,698h0"/>
<path d="M141.6,729h0M151.9,725.4h0M162.3,721.9h0M172.6,716.7h0M183,711.4h0M193.3,705.5h0M203.7,699.6h0M214,693.7h0M224.4,687.8h0M234.7,682.4h0M245.1,677h0M255.4,672.3h0M265.8,667.7h0M276.1,663.5h0M286.5,659.4h0M296.9,655.3h0"/>
<path d="M144.6,845h0M149.3,856.1h0M154,867.2h0M158.7,878.4h0M163.4,889.5h0M168.1,900.6h0M173.9,910.9h0M180.4,920.7h0M186.8,930.5h0M193.3,940.3h0M199.7,950h0M206.2,959.8h0M215,966.4h0M223.8,973h0M232.7,979.6h0M241.7,985.8h0M251.3,990.5h0M261,995.1h0M270.6,999.8h0M280.8,1002.3h0M291,1004.8h0M301.2,1007.2h0M311.4,1009.7h0M321.6,1012.1h0M331.8,1014.6h0M341.7,1018h0M351.6,1022h0M361.4,1026.1h0M371.5,1028.9h0M381.8,1030.1h0M392.2,1031.3h0M402.5,1032.4h0M412.9,1033.6h0M423.3,1034.8h0M433.6,1035.9h0M444,1037.1h0M454.3,1038.3h0M464.7,1039.5h0M475.1,1039.2h0M485.5,1038.9h0M495.9,1038.6h0M506.3,1038.4h0M516.7,1038.1h0M527,1037.8h0M537.4,1036.6h0M547.7,1035.1h0M558,1033.6h0M568.4,1032.2h0M578.7,1030.7h0M589,1029.2h0M599.4,1028.1h0M609.8,1027.5h0M620.2,1026.9h0M630.5,1026.3h0M640.9,1025.7h0M651.3,1025.2h0M661.7,1024.6h0M672.1,1024.2h0M682.5,1023.7h0M692.9,1023.3h0M703.3,1022.9h0M713.7,1022.4h0M724.1,1022h0M734.5,1021.2h0M744.8,1020.4h0M755.2,1019.6h0M765.6,1018.8h0M776,1018h0M786.3,1017.2h0M796.7,1016.2h0M807.1,1015.3h0M817.5,1014.3h0M827.8,1013.4h0M838.2,1012.4h0M848.6,1011.4h0M858.9,1010.6h0M869.3,1009.8h0M879.7,1009h0M890.1,1008.2h0M900.4,1007.4h0M910.8,1006.6h0"/>
<path d="M145.9,850.6h0M150.5,861.9h0M155,873.1h0M159.6,884.3h0M164.1,895.5h0M168.7,906.7h0M174.1,917.4h0M179.9,927.7h0M185.7,938.1h0M191.5,948.5h0M197.3,958.8h0M203.1,969.2h0M210.1,978h0M218.8,985h0M227.4,991.9h0M236.1,998.8h0M245.1,1005h0M254.4,1010.4h0M263.8,1015.8h0M273.4,1020.6h0M283.6,1023.1h0M293.7,1025.6h0M303.9,1028h0M314.1,1030.5h0M324.3,1033h0M334.5,1035.5h0M344.9,1036.2h0M355.3,1036.6h0M365.7,1037.1h0M376.1,1037.5h0M386.5,1038h0M396.8,1038.4h0M407.2,1038.9h0M417.6,1039.3h0M428,1039.8h0M438.4,1040.2h0M448.8,1040.7h0M459.2,1041.1h0M469.6,1041.3h0M480,1041h0M490.4,1040.7h0M500.8,1040.4h0M511.2,1040h0M521.6,1039.7h0M532,1039.5h0M542.4,1039.5h0M552.8,1039.5h0M563.2,1039.5h0M573.6,1039.5h0M584,1039.5h0M594.4,1039.5h0M604.8,1039.3h0M615.2,1039.1h0M625.6,1039h0M636,1038.8h0M646.4,1038.6h0M656.8,1038.4h0M667.2,1038.3h0M677.6,1038.1h0M688,1037.9h0M698.4,1037.7h0M708.8,1037.3h0M719.2,1036.8h0M729.5,1036.3h0M739.9,1035.8h0M750.3,1035.3h0M760.7,1034.8h0M771.1,1034.4h0M781.5,1033.9h0M791.9,1033.4h0M802.3,1033h0M812.7,1033.2h0M823.1,1033.4h0M833.5,1033.6h0M843.9,1033.7h0M854.3,1033.9h0M864.7,1034.1h0M875.1,1034.3h0M885.5,1034.4h0M895.9,1034.6h0M906.3,1034.8h0M916.7,1035h0"/>
<path d="M144.1,848.5h0M148.5,859.8h0M152.9,871.1h0M157.3,882.5h0M161.7,893.8h0M166.1,905.1h0M170.7,916.3h0M176.2,926.9h0M181.7,937.5h0M187.2,948.1h0M192.6,958.7h0M198.1,969.3h0M203.6,979.9h0M210.6,988.8h0M219,996.3h0M227.3,1003.7h0M235.7,1011.1h0M244.4,1017.8h0M253.6,1023.8h0M262.7,1029.7h0M272,1035.3h0M282.1,1038h0M292.3,1040.8h0M302.4,1043.5h0M312.6,1046.2h0M322.7,1049h0M332.9,1051.7h0M343.2,1052.4h0M353.6,1052.2h0M364,1052.1h0M374.4,1051.9h0M384.8,1051.8h0M395.2,1051.6h0M405.6,1051.5h0M416,1051.3h0M426.4,1051.2h0M436.8,1051h0M447.2,1050.9h0M457.6,1050.7h0M467.9,1051.1h0M477.1,1056.9h0M486.3,1062.7h0M495.9,1067.2h0M505.9,1071h0M515.8,1074.7h0M525.7,1078.4h0M535.9,1080.6h0M546.3,1081.6h0M556.6,1082.6h0M567,1083.6h0M577.4,1084.7h0M587.7,1085.7h0M598.1,1085.7h0M608.5,1085.7h0M618.9,1085.6h0M629.3,1085.5h0M639.7,1085.4h0M650.1,1085.4h0M660.5,1085.3h0M670.9,1085.2h0M681.3,1085.1h0M691.7,1085.1h0M702.1,1084.9h0M712.5,1084.6h0M722.9,1084.2h0M733.3,1083.9h0M743.7,1083.5h0M754.1,1083.2h0M763.8,1080.2h0M772.7,1073.7h0M782.7,1070.2h0M792.7,1066.8h0M802.7,1063.3h0M812.7,1059.8h0M822.7,1056.7h0M832.8,1053.8h0M843,1050.9h0M853.1,1048h0M863.3,1045.9h0M873.7,1045.5h0M884.1,1045.1h0M894.5,1044.7h0M904.9,1044.3h0M915.3,1043.9h0"/>
<path d="M143.3,849.5h0M147.6,860.9h0M151.9,872.2h0M156.2,883.6h0M160.5,895h0M164.8,906.3h0M169.1,917.7h0M174.2,928.6h0M179.4,939.4h0M184.6,950.2h0M189.8,961h0M195,971.8h0M200.3,982.5h0M205.5,993.3h0M213,1001.9h0M220.8,1010.1h0M228.7,1018.2h0M236.5,1026.4h0M244.8,1033.9h0M253.5,1040.9h0M262.1,1047.8h0M270.7,1054.8h0M280.8,1058h0M290.9,1061h0M300.9,1064.1h0M311,1067.2h0M321.1,1070.3h0M331.2,1073.3h0M341.3,1075.9h0M351.6,1078h0M361.9,1080h0M372.1,1082.1h0M382.4,1084.2h0M392.6,1086.3h0M402.9,1087.7h0M413.3,1088h0M423.7,1088.3h0M434.1,1088.6h0M444.5,1088.9h0M454.9,1089.2h0M465.3,1089.5h0M475.7,1090.4h0M486,1091.3h0M496.4,1092.2h0M506.8,1093h0M517.2,1093.9h0M527.5,1094.8h0M537.9,1094.3h0M548.3,1093.4h0M558.7,1092.5h0M569,1091.7h0M579.4,1090.8h0M589.8,1089.9h0M600.2,1089.1h0M610.6,1088.4h0M620.9,1087.7h0M631.3,1086.9h0M641.7,1086.2h0M652.1,1085.5h0M662.5,1084.9h0M672.9,1084.7h0M683.3,1084.4h0M693.7,1084.2h0M704.1,1084.1h0M714.5,1084.2h0M724.9,1084.4h0M735.3,1084.6h0M745.7,1084.8h0M756.1,1084.9h0M766.4,1085.6h0M776.8,1086.7h0M787.2,1087.7h0M797.5,1088.8h0M807.9,1089.2h0M818.3,1089.4h0M828.7,1089.6h0M839.1,1089.8h0M849.5,1090h0M859.6,1087.1h0M869.7,1084.2h0M879.8,1080.9h0M889.7,1077.1h0M899.6,1073.3h0"/>
<path d="M145.1,859.5h0M148.6,871.2h0M152.2,882.9h0M155.7,894.6h0M159.3,906.4h0M162.8,918.1h0M166.7,929.6h0M171.2,940.9h0M175.7,952.2h0M180.2,963.4h0M184.6,974.7h0M189.1,986h0M193.6,997.2h0M200.3,1006.6h0M207.6,1015.4h0M215,1024.2h0M222.4,1033h0M230.1,1041.3h0M239,1047.7h0M248,1054.1h0M256.9,1060.5h0M266.1,1066h0M276.1,1069.5h0M286.1,1072.9h0M296.1,1076.4h0M306.1,1079.8h0M316.1,1083.2h0M326.1,1086.7h0M336.1,1090.1h0M346.3,1092.5h0M356.5,1094.9h0M366.7,1097.4h0M376.9,1099.8h0M387.1,1102.2h0M397.3,1104.6h0M407.6,1106.9h0M417.8,1109h0M428,1111.2h0M438.3,1113.4h0M448.5,1115.5h0M458.8,1117.7h0M469.1,1119.1h0M479.5,1119.4h0M489.9,1119.8h0M500.3,1120.1h0M510.7,1120.4h0M521.1,1120.7h0M531.5,1120.9h0M541.9,1120.6h0M552.2,1120.3h0M562.6,1120h0M573,1119.7h0M583.4,1119.3h0M593.8,1119h0M604.2,1117.6h0M614.5,1116.2h0M624.8,1114.7h0M635.1,1113.2h0M645.5,1111.8h0M655.8,1110.3h0M666.2,1109.5h0M676.6,1109h0M687,1108.6h0M697.4,1108.1h0M707.8,1108.3h0M718.1,1108.6h0M728.5,1109h0M738.9,1109.3h0M749.3,1109.6h0M759.7,1110h0M770.1,1110h0M780.5,1110h0M790.9,1110h0M801.3,1109.9h0M811.7,1109.5h0M822.1,1109.1h0M832.5,1108.7h0M842.9,1108.3h0M853.3,1107.8h0M863.7,1107.3h0M874.1,1106.8h0M884.5,1106.2h0M894.9,1105.7h0M905.3,1105.2h0M915.6,1104.6h0"/>
<path d="M141.8,850.5h0M145.2,862.3h0M148.6,874.1h0M152.1,885.9h0M155.5,897.7h0M158.9,909.5h0M162.3,921.2h0M166,932.9h0M170.5,944.1h0M175,955.4h0M179.5,966.7h0M184,977.9h0M188.4,989.2h0M192.9,1000.5h0M199.1,1010.3h0M206.5,1019.1h0M213.9,1027.9h0M221.2,1036.7h0M228.7,1045.2h0M238.5,1049.4h0M248.3,1053.6h0M258.1,1057.8h0M268.1,1061.3h0M278.2,1064.1h0M288.3,1066.9h0M298.5,1069.7h0M308.6,1072.5h0M318.8,1075.3h0M328.9,1078.1h0M339.1,1080.5h0M349.4,1082.2h0M359.7,1083.8h0M370,1085.4h0M380.3,1087.1h0M390.6,1088.7h0M401,1090.2h0M411.3,1090.9h0M421.7,1091.7h0M432.1,1092.5h0M442.5,1093.3h0M452.9,1094.1h0M463.2,1094.9h0M473.6,1095.3h0M484,1095.6h0M494.4,1095.9h0M504.8,1096.2h0M515.2,1096.5h0M525.6,1096.9h0M536,1096.8h0M546.4,1096.5h0M556.8,1096.2h0M567.2,1095.8h0M577.6,1095.5h0M588,1095.2h0M598.4,1094.8h0M608.8,1094.3h0M619.2,1093.9h0M629.6,1093.4h0M640,1092.9h0M650.3,1092.4h0M660.7,1091.9h0M671.1,1091.4h0M681.5,1090.9h0M691.9,1090.4h0M702.3,1090h0M712.7,1090h0M723.1,1090h0M733.5,1090h0M743.9,1090h0M754.3,1090h0M764.7,1090h0M775.1,1090h0M785.5,1090.7h0M795.9,1091.4h0M806.3,1092.1h0M816.6,1092.8h0M826.9,1094.6h0M837.1,1096.9h0M847.4,1099.2h0M857.6,1101.5h0M867.9,1103.2h0M878.2,1104.9h0M888.5,1106.5h0M898.8,1108.1h0M909.1,1109.7h0"/>
<path d="M145.4,861.7h0M149.9,872.9h0M154.4,884.2h0M158.3,895.8h0M161.5,907.6h0M164.8,919.5h0M167.4,931.5h0M170,943.6h0M172.6,955.7h0M175.2,967.8h0M177.8,979.9h0M180.4,991.9h0M185.1,1002.9h0M190.9,1013.3h0M196.9,1023.5h0M203.1,1033.5h0M209.2,1043.6h0M215.4,1053.6h0M221.7,1063.6h0M228,1073.4h0M234.4,1083.3h0M240.7,1093.2h0M247.1,1103.1h0M254,1112.5h0M260.8,1121.9h0M267.7,1131.3h0M276.7,1137.3h0M285.9,1143.2h0M295.1,1149.1h0M303.8,1155.8h0M312.6,1162.6h0M321.4,1169.2h0"/>
<path d="M142.5,858.4h0M145.8,870.3h0M149,882.1h0M152.3,894h0M155.5,905.9h0M158.8,917.7h0M162,929.6h0M165.4,941.4h0M169.2,953h0M173,964.6h0M176.9,976.2h0M180.7,987.8h0M184.6,999.4h0M188.4,1011h0M192.2,1022.6h0M197.5,1032.9h0M205.4,1041.1h0M213.2,1049.3h0M221.1,1057.5h0M229,1065.6h0M237.9,1072h0M246.9,1078.3h0M255.8,1084.7h0M264.9,1090.8h0M274.5,1095.5h0M284.2,1100.1h0M293.8,1104.8h0M303.5,1109.4h0M313.1,1114.1h0M322.8,1118.8h0M332.4,1123.4h0M342.1,1127.8h0M351.9,1132.1h0M361.7,1136.4h0M371.4,1140.7h0M381,1145.5h0M390.6,1150.3h0"/>
<path d="M142.1,851.7h0M145.3,863.6h0M148.6,875.4h0M151.8,887.3h0M155.1,899.1h0M158.3,911h0M161.6,922.8h0M164.8,934.7h0M168.8,946.2h0M172.9,957.7h0M176.9,969.2h0M180.9,980.7h0M185,992.2h0M189,1003.7h0M193,1015.2h0M199.3,1024.8h0M207.1,1033h0M215,1041.2h0M222.8,1049.4h0M231,1057h0M239.9,1063.4h0M248.9,1069.8h0M257.8,1076.2h0M267,1081.9h0M276.7,1086.5h0M286.3,1091.2h0M296,1095.8h0M305.6,1100.5h0M315.3,1105.1h0M324.9,1109.8h0M334.6,1114.5h0M344.5,1118h0M354.6,1121.4h0M364.6,1124.8h0M374.6,1128.2h0M384.4,1132.2h0M394,1137h0"/>
<path d="M142,854.4h0M145.2,866.3h0M148.5,878.1h0M151.7,890h0M155,901.8h0M158.2,913.7h0M161.5,925.5h0M164.7,937.4h0M168.6,948.9h0M172.6,960.5h0M176.6,972h0M180.5,983.6h0M184.5,995.1h0M188.4,1006.7h0M192.4,1018.2h0M197.9,1028.4h0M205.8,1036.6h0M213.6,1044.8h0M221.5,1053h0M229.4,1060.9h0M238.4,1067.3h0M247.3,1073.7h0M256.3,1080h0M265.4,1086h0M275,1090.7h0M284.7,1095.4h0M294.3,1100h0M303.9,1104.7h0M313.6,1109.3h0M323.2,1114h0M332.9,1118.6h0M342.7,1122.7h0M352.6,1126.6h0M362.5,1130.4h0M372.4,1134.3h0M382.3,1138.1h0M392.2,1142h0M402.1,1145.9h0M411.8,1150.1h0M421.6,1154.3h0M431.4,1158.5h0M441.2,1162.7h0M451,1166.9h0"/>
<path d="M142.6,854.6h0M146,866.5h0M149.3,878.3h0M152.7,890.1h0M156.1,901.9h0M159.4,913.7h0M162.8,925.5h0M166.4,937.2h0M170.6,948.6h0M174.7,960.1h0M178.9,971.5h0M183.1,983h0M187.2,994.4h0M191.4,1005.8h0M196.3,1016.6h0M204.1,1024.8h0M211.9,1033h0M219.8,1041.2h0M227.6,1049.4h0M236.5,1055.9h0M245.4,1062.3h0M254.4,1068.7h0M263.3,1075.1h0M273,1079.7h0M282.6,1084.4h0M292.3,1089h0M301.9,1093.7h0M311.5,1098.3h0M321.2,1103h0M330.8,1107.7h0M340.6,1111.9h0M350.5,1115.8h0M360.4,1119.6h0M370.3,1123.5h0M380.2,1127.3h0M390.1,1131.1h0M400,1135h0M409.7,1139.3h0M419.5,1143.7h0M429.2,1148h0M439,1152.3h0M448.7,1156.7h0"/>
<path d="M144.4,858.6h0M147.8,870.4h0M151.2,882.2h0M154.5,894h0M157.9,905.8h0M161.3,917.6h0M164.7,929.4h0M168.9,940.8h0M173.2,952.2h0M177.4,963.6h0M181.7,975h0M185.9,986.4h0M190.2,997.8h0M194.4,1009.2h0M202,1017.6h0M209.8,1025.8h0M217.7,1034h0M225.5,1042.2h0M234.1,1049.2h0M243,1055.6h0M251.9,1062h0M260.9,1068.3h0M270.5,1073h0M280.3,1077.1h0M290.1,1081.2h0M300,1085.2h0M309.8,1089.3h0M319.6,1093.4h0M329.5,1097.4h0M339.3,1101.4h0M349.2,1105.3h0M359.1,1109.1h0M369,1113h0M378.9,1116.8h0M388.8,1120.6h0M398.7,1124.5h0M408.5,1128.6h0M418.3,1132.8h0M428.1,1136.9h0M437.9,1141.1h0M447.7,1145.3h0"/>
<path d="M142.2,849.1h0M145.6,860.9h0M149,872.7h0M152.4,884.5h0M155.8,896.3h0M159.2,908.1h0M162.6,919.9h0M166.3,931.6h0M170.7,942.9h0M175,954.2h0M179.4,965.5h0M183.8,976.8h0M188.2,988.2h0M192.6,999.5h0M198.7,1009.2h0M206.6,1017.4h0M214.4,1025.6h0M222.2,1033.8h0M230.5,1041.3h0M239.9,1046.7h0M249.2,1052h0M258.6,1057.4h0M268,1062.9h0M277.3,1068.4h0M286.6,1074h0M295.9,1079.6h0M305.2,1085.1h0M314.5,1090.7h0M323.8,1096.3h0M333.4,1101h0M343.5,1103.9h0M353.6,1106.7h0M363.7,1109.6h0M373.9,1112.5h0M384,1115.4h0M394.1,1118.3h0M404.2,1121h0M414.5,1123.3h0M424.7,1125.7h0M434.9,1128.1h0M445.1,1130.4h0M455.3,1132.8h0M465.5,1135.1h0M475.7,1137.6h0M485.9,1140h0M496.1,1142.4h0M506.3,1144.9h0M516.5,1147.3h0M526.7,1149.8h0"/>
<path d="M143.6,852.8h0M147.1,864.6h0M150.6,876.4h0M154,888.1h0M157.5,899.9h0M161,911.7h0M164.4,923.4h0M168.8,934.8h0M173.3,946h0M177.7,957.3h0M182.2,968.6h0M186.7,979.8h0M191.2,991.1h0M196.3,1001.7h0M204.2,1009.9h0M212,1018.1h0M219.9,1026.3h0M227.7,1034.5h0M237,1040h0M246.4,1045.4h0M255.8,1050.8h0M265.3,1055.9h0M275.1,1059.9h0M284.9,1064h0M294.8,1068.1h0M304.6,1072.1h0M314.4,1076.2h0M324.3,1080.3h0M334.1,1084.3h0M344,1088.2h0M353.9,1092.1h0M363.8,1095.9h0M373.7,1099.8h0M383.6,1103.6h0M393.4,1107.5h0M403.4,1110.9h0M413.6,1113.4h0M423.8,1115.9h0M434,1118.5h0"/>
<path d="M145.1,842.8h0M150.5,853.4h0M155.9,864.1h0M161.3,874.8h0M166.2,885.7h0M171.2,896.7h0M176.3,907.6h0M181.7,918.3h0M187,929h0M193,939.2h0M199.7,948.7h0M206.5,958.2h0M214.8,965.7h0M223,973.2h0M232.1,979.3h0M241.4,984.8h0M250.8,990.3h0M260.7,994.1h0M270.6,997.8h0M280.6,1001.3h0M290.6,1004.8h0M300.6,1008.2h0M310.7,1011h0M320.8,1013.8h0M331,1016.7h0M341.2,1019.1h0M351.4,1021.2h0M361.7,1023.3h0M371.9,1025.3h0M382.2,1027h0M392.5,1028.8h0"/>
<path d="M143.5,843h0M148.6,853.9h0M153.8,864.8h0M158.9,875.6h0M163.8,886.6h0M168.7,897.6h0M173.5,908.7h0M178.7,919.5h0M184.1,930.2h0M189.4,940.9h0M196,950.5h0M202.8,960h0M210.2,968.6h0M218.5,976.1h0M227,983.3h0M236.2,989.2h0M245.4,995h0M254.8,1000.3h0M264.5,1004.9h0M274.2,1009.3h0M284,1013.4h0M293.8,1017.5h0M303.8,1021.1h0M313.9,1023.9h0M324,1026.7h0M334.2,1029.6h0M344.5,1031.3h0M354.8,1032.8h0M365.1,1034.3h0M375.5,1035.5h0M385.8,1036.6h0M396.2,1037.6h0M406.6,1038.3h0M417,1038.8h0M427.3,1039.4h0M437.7,1039.9h0"/>
<path d="M144.3,849.1h0M149.1,860.1h0M153.9,871.1h0M158.8,882.2h0M163.5,893.3h0M168.3,904.4h0M173.1,915.5h0M178.2,926.3h0M183.5,937h0M188.9,947.7h0M195.1,957.8h0M201.5,967.6h0M208.2,977h0M216,985.3h0M223.7,993.6h0M232.6,1000.1h0M241.6,1006.3h0M250.7,1012.4h0M259.9,1018.1h0M269.2,1023.9h0M278.7,1029h0M288.2,1033.9h0M297.8,1038.8h0M307.7,1042.6h0M317.7,1045.9h0M327.7,1049.3h0M337.7,1052.5h0M348,1054.9h0M358.2,1057.2h0M368.4,1059.6h0M378.7,1061.4h0M389,1063.2h0M399.3,1064.9h0"/>
<path d="M141.9,846.7h0M146.6,857.8h0M151.3,869h0M156,880.1h0M160.3,891.5h0M164.3,903h0M168.3,914.5h0M172.4,926h0M176.9,937.2h0M181.4,948.5h0M185.9,959.7h0M191.7,970.1h0M197.5,980.5h0M203.9,990.2h0M210.9,999.5h0M218.4,1007.9h0M226.9,1015.1h0M235.5,1022.3h0M244.6,1028.2h0M253.8,1034h0M263.1,1039.5h0M272.8,1044h0M282.5,1048.5h0M292.3,1052.8h0M302.3,1056.1h0M312.3,1059.4h0M322.4,1062.5h0M332.7,1064.5h0M342.9,1066.6h0M353.2,1068.4h0M363.6,1069.8h0M373.9,1071.2h0"/>
<path d="M141.9,848.7h0M146.2,860h0M150.6,871.3h0M154.9,882.7h0M158.9,894.2h0M162.5,905.9h0M166.2,917.6h0M169.8,929.3h0M174,940.7h0M178.2,952.1h0M182.4,963.5h0M187.5,974.4h0M192.7,985.2h0M198.5,995.5h0M205.2,1005.1h0M212.2,1014.2h0M220.2,1022.2h0M228.2,1030.2h0M236.9,1037h0M245.8,1043.4h0M254.7,1049.8h0M264.2,1054.9h0M273.7,1060h0M283.2,1065.1h0M293,1069.2h0M302.9,1073.2h0M312.8,1077.1h0M322.8,1080.1h0M333,1082.8h0M343.2,1085.5h0"/>
<path d="M142.6,846.3h0M147.6,857.2h0M152.6,868.1h0M157.7,879.1h0M162.3,890.3h0M166.7,901.5h0M171.2,912.8h0M175.7,924h0M180.5,935.1h0M185.2,946.2h0M190.3,957.1h0M196.3,967.2h0M202.4,977.4h0M209.6,986.3h0M217.2,994.9h0M225.7,1001.9h0M234.8,1008h0M243.8,1014.2h0M253.3,1019.3h0M262.8,1024.3h0M272.5,1029h0M282.3,1032.9h0M292.2,1036.9h0M302.1,1040.6h0M312.2,1043.5h0M322.3,1046.4h0M332.5,1049.3h0M342.7,1051.3h0M353,1053.1h0M363.3,1054.9h0"/>
<path d="M142.7,1601.6h0M144.3,1589.3h0M145.8,1576.9h0M147.4,1564.6h0M150.4,1552.7h0M154.3,1541.1h0M158.1,1529.6h0M162,1518h0M165.9,1506.4h0M169.4,1494.7h0M172.6,1482.8h0M175.8,1470.9h0M179.6,1459.3h0M183.4,1447.7h0M186.4,1435.7h0M189.1,1423.7h0M192.4,1411.9h0M196,1400.1h0M199.2,1388.3h0M202.5,1376.4h0M206,1364.7h0M212.4,1357h0M222.6,1354.8h0M232.9,1352.4h0M242.3,1347.8h0M250.9,1340.7h0M258.8,1332.8h0M267.2,1325.3h0M276.1,1319h0M285.5,1313.6h0M295.4,1309.7h0M305.3,1305.8h0M314.9,1301.3h0M324.6,1296.7h0M334.5,1293h0M344.7,1290.9h0M355.1,1289.7h0M365.4,1288.5h0M375.8,1287.3h0M386.1,1286.1h0"/>
<path d="M142.7,1604.8h0M145.2,1592.7h0M147.7,1580.6h0M150.2,1568.5h0M153.2,1556.5h0M157,1545h0M160.9,1533.4h0M164.7,1521.8h0M168.6,1510.2h0M172.4,1498.6h0M175.6,1486.7h0M178.7,1474.8h0M182.3,1463.1h0M186.2,1451.5h0M189.5,1439.7h0M192.2,1427.7h0M195.2,1415.7h0M198.4,1403.8h0M202,1392.1h0M205.8,1380.5h0M212.6,1371.1h0M220.9,1363.8h0M229.8,1357.3h0M238.7,1350.9h0M248.3,1346.1h0M258,1341.6h0M267.7,1337h0M277.2,1332h0M286.5,1326.5h0M295.9,1321h0M305.2,1315.6h0M315,1311.4h0M325.1,1308.6h0M335.3,1306.1h0M345.6,1304.1h0M355.8,1302.1h0M366.1,1300.1h0M376.3,1298h0M386.6,1295.8h0M396.9,1294.9h0M407.3,1295.2h0M417.7,1295.4h0M428.1,1295.7h0M438.5,1296h0M448.9,1296h0M459.3,1296h0M469.7,1296h0M480.1,1296h0M490.5,1294.9h0M500.8,1293.8h0M511.2,1292.7h0M521.5,1291.6h0"/>
<path d="M142.6,1606.3h0M145.8,1594.4h0M149,1582.5h0M152.2,1570.6h0M155.4,1558.8h0M159.6,1547.4h0M163.8,1535.9h0M167.9,1524.4h0M171.7,1512.9h0M175.6,1501.3h0M179,1489.5h0M182.4,1477.7h0M186,1466h0M189.9,1454.4h0M193.4,1442.7h0M196.5,1430.8h0M199.8,1418.9h0M203.3,1407.2h0M208.2,1396.2h0M214.3,1386.6h0M223.6,1381h0M232.9,1375.4h0M242.2,1369.7h0M251.6,1364.6h0M261.8,1361.9h0M271.9,1359.3h0M282.1,1356.7h0M292.2,1354h0M302.5,1351.8h0M312.8,1351.1h0M323.2,1350.4h0M333.6,1349.6h0M344,1348.9h0M354.4,1348.2h0M364.8,1347.5h0M375.1,1346.7h0M385.5,1346h0M395.9,1345.3h0M406.3,1345h0M416.7,1345h0M427.1,1345h0M437.5,1345h0M447.9,1345h0M458.3,1345h0M468.7,1345h0M479.1,1345h0M489.5,1345h0M499.9,1345h0M510.3,1344.1h0M520.6,1343.3h0M531,1342.4h0M541.4,1341.6h0M551.8,1340.7h0M562.1,1340.2h0M572.5,1341h0M582.9,1341.9h0M593.3,1342.8h0M603.6,1343.6h0M614,1344.5h0M624.4,1344.5h0M634.7,1343.4h0M645.1,1342.2h0M655.5,1341h0M665.8,1339.9h0M676.2,1338.7h0M686.5,1337.6h0M696.8,1336.2h0M706.7,1332.2h0M716.6,1328.2h0M726.4,1324.3h0M736.5,1322.7h0M746.8,1324.3h0M757.1,1325.8h0M767.4,1327.4h0M777.8,1327.3h0M788.2,1327h0M798.6,1326.7h0M809,1326.1h0M819.4,1325.1h0M829.7,1324h0M840.1,1323h0M850.5,1322.6h0M860.9,1322.1h0M871.3,1321.7h0M881.7,1321.3h0M892,1320.9h0M902.3,1318.7h0"/>
<path d="M143.8,1603.2h0M147.6,1591.6h0M151.4,1580h0M155.3,1568.4h0M159.3,1556.8h0M163.8,1545.6h0M168.3,1534.3h0M172.4,1522.9h0M176.2,1511.3h0M180.1,1499.7h0M184.2,1488.2h0M188.3,1476.8h0M192.3,1465.2h0M196.1,1453.7h0M200,1442.1h0M203.8,1430.5h0M208.3,1419.2h0M213.5,1408.6h0M221.9,1401.2h0M230.2,1393.7h0M238.5,1386.3h0M248.1,1381.5h0M257.9,1377.3h0M267.6,1373h0M277.7,1370.1h0M287.9,1367.7h0M298.1,1365.2h0M308.3,1362.8h0M318.5,1360.4h0M328.9,1359.1h0M339.2,1358.1h0M349.6,1357h0M360,1356h0M370.3,1355h0M380.7,1353.9h0M391.1,1352.9h0M401.4,1352h0M411.8,1351.8h0M422.2,1351.6h0M432.6,1351.3h0M443,1351.1h0M453.4,1350.9h0M463.8,1350.7h0M474.2,1350.5h0M484.6,1350.3h0M495,1350.1h0M505.4,1349.9h0M515.8,1349.7h0M526.2,1349.5h0M536.6,1349.3h0M547,1349.1h0M557.4,1348.9h0M567.8,1348.6h0M578.2,1348.4h0M588.6,1348.2h0M599,1348h0M609.4,1348h0M619.8,1348h0M630.2,1348h0M640.6,1348h0M651,1348h0M661.4,1348h0M671.8,1348h0M682.2,1348h0M692.6,1348h0M703,1348h0M713.4,1348h0M723.8,1348h0M734.2,1348h0M744.6,1348h0M755,1348h0M765.4,1348h0M775.8,1348h0M786.2,1348h0M796.6,1348h0M807,1348.1h0M817.4,1348.3h0M827.8,1348.5h0M838.2,1348.6h0M848.6,1348.8h0M859,1349h0M869.4,1349.2h0M879.8,1349.4h0M890.2,1349.5h0M900.6,1349.7h0M911,1349.9h0"/>
<path d="M143.5,1604.8h0M147.7,1593.4h0M151.9,1582h0M156.1,1570.6h0M160.4,1559.2h0M165.5,1548.3h0M170.5,1537.4h0M175.4,1526.4h0M179.9,1515.2h0M184.4,1503.9h0M188.5,1492.4h0M192.4,1480.9h0M196.2,1469.3h0M200.1,1457.7h0M204,1446.1h0M208.2,1434.7h0M214.1,1424.6h0M221,1415.3h0M229.2,1408.2h0M239,1404h0M248.8,1399.8h0M258.6,1395.6h0M268.5,1391.8h0M278.4,1388.1h0M288.4,1384.4h0M298.3,1380.6h0M308.4,1378h0M318.6,1375.5h0M328.8,1373.1h0M339,1370.6h0M349.2,1368.2h0M359.6,1366.9h0M369.9,1365.6h0M380.3,1364.4h0M390.6,1363.1h0M401,1361.9h0M411.3,1361.1h0M421.7,1360.4h0M432.1,1359.6h0M442.5,1358.8h0M452.9,1358h0M463.2,1357.3h0M473.6,1356.5h0M484,1355.9h0M494.4,1355.5h0M504.8,1355.1h0M515.2,1354.7h0M525.6,1354.3h0M536,1353.9h0M546.4,1353.5h0M556.8,1353.1h0M567.2,1352.9h0M577.6,1352.8h0M588,1352.7h0M598.4,1352.6h0M608.8,1352.5h0M619.2,1352.3h0M629.6,1352.2h0M640,1352.1h0M650.4,1352h0M660.8,1352h0M671.2,1352h0M681.6,1352h0M692,1352h0M702.4,1352h0M712.8,1352h0M723.2,1352h0M733.6,1352h0M744,1352h0M754.4,1352.1h0M764.8,1352.4h0M775.2,1352.8h0M785.5,1353.1h0M795.9,1353.4h0M806.3,1353.7h0M816.7,1354h0M827.1,1354.3h0M837.5,1354.6h0M847.9,1354.9h0M858.3,1355.1h0M868.7,1355.3h0M879.1,1355.4h0M889.5,1355.6h0M899.9,1355.7h0M910.3,1355.9h0"/>
<path d="M143,1606.6h0M147.5,1595.4h0M152.1,1584.2h0M156.7,1573h0M161.3,1561.8h0M166.3,1550.9h0M171.3,1540h0M176.4,1529.1h0M180.9,1517.8h0M185.4,1506.6h0M189.6,1495.2h0M193.5,1483.6h0M197.3,1472h0M201.2,1460.4h0M205.1,1448.8h0M210.5,1438.2h0M218,1430.8h0M228.1,1427.7h0M238.1,1424.6h0M247.7,1419.7h0M257.6,1416.3h0M267.8,1413.5h0M278,1410.9h0M288.2,1408.5h0M298.4,1406.5h0M308.7,1404.7h0M318.9,1402.5h0M329.2,1400.1h0M339.4,1398.1h0M349.7,1396.4h0M360,1394.3h0M370.2,1391.9h0M380.4,1389.8h0M390.7,1388h0M401,1386.5h0M411.4,1385.3h0M421.7,1384.1h0M432.1,1382.5h0M442.3,1380.5h0M452.6,1378.5h0M462.8,1376.5h0M473.1,1374.5h0M483.4,1372.5h0M493.6,1370.5h0M503.7,1367.4h0M513.7,1364.1h0M523.9,1361.7h0M534.3,1360.8h0M544.6,1359.8h0M555,1358.9h0M565.4,1358h0M575.8,1357.1h0M586.1,1356.2h0M596.5,1355.3h0M606.9,1354.7h0M617.3,1354.1h0M627.7,1353.6h0M638.1,1353.1h0M648.4,1352.6h0M658.8,1352.1h0M669.2,1351.5h0M679.6,1351h0M690,1350.5h0M700.4,1350h0M710.8,1349.5h0M721.2,1348.9h0M731.6,1348.4h0M742,1347.9h0M752.4,1347.4h0M762.7,1346.9h0M773.1,1346.3h0M783.5,1345.8h0M793.9,1345.3h0M804.3,1344.9h0M814.7,1344.5h0M825.1,1344.1h0M835.5,1343.8h0M845.9,1343.4h0M856.3,1343.1h0M866.7,1342.7h0M877.1,1342.4h0M887.5,1342h0M897.9,1341.7h0M908.3,1341.3h0"/>
<path d="M144.3,1600.6h0M147.7,1588.8h0M151.1,1577h0M154.5,1565.2h0M158.5,1553.8h0M163,1542.5h0M167.5,1531.2h0M171.4,1519.7h0M175.3,1508.1h0M179.1,1496.5h0M182.9,1484.9h0M186.6,1473.2h0M190.1,1461.5h0M193.5,1449.7h0M197,1437.9h0M200.8,1426.3h0M205.7,1415.3h0M212.7,1406.8h0M221.7,1400.6h0M230.9,1394.6h0M240.6,1390.4h0M250.4,1386.2h0M260.2,1381.9h0M270.4,1379.4h0M280.6,1376.9h0M290.7,1374.3h0M300.9,1371.9h0M311.3,1370.7h0M321.6,1369.5h0M332,1368.3h0M342.4,1367.1h0M352.7,1365.9h0M363.1,1364.7h0M373.4,1363.9h0M383.8,1363h0M394.2,1362.2h0M404.6,1361.3h0M414.9,1360.4h0M425.2,1361.3h0M435.4,1363.8h0M445.6,1366.3h0M455.8,1368.8h0M466,1371.3h0M476.1,1373.8h0M486,1372h0M495.7,1367.5h0M505.4,1362.9h0M515.2,1359h0M525.6,1359.1h0M536,1359.3h0M546.4,1359.4h0M556.8,1359.5h0M567.2,1359.6h0M577.6,1359.7h0M588,1359.9h0M598.4,1360h0M608.8,1360.1h0M619.2,1360.2h0M629.6,1360.3h0M640,1360.3h0M650.4,1360.4h0M660.8,1360.5h0M671.2,1360.6h0M681.6,1360.7h0M692,1360.8h0M702.4,1360.9h0M712.8,1361h0M723.2,1361.1h0M733.6,1361.2h0M744,1361.2h0M754.4,1361.6h0M764.8,1362.3h0M775.1,1363h0M785.5,1363.7h0M795.9,1364.5h0M806.3,1365.1h0M816.7,1365.7h0M827.1,1366.3h0M837.5,1366.9h0M847.9,1367.2h0M858.3,1367.3h0M868.7,1367.5h0M879.1,1367.6h0M889.5,1367.7h0M899.9,1367.8h0M910.3,1368h0"/>
<path d="M143,1601.4h0M145.1,1589.2h0M147.1,1577h0M149.2,1564.7h0M152.4,1552.9h0M156.2,1541.3h0M160.1,1529.7h0M164,1518.1h0M167.8,1506.6h0M171.4,1494.8h0M174.5,1483h0M177.7,1471.1h0M181.5,1459.5h0M185.4,1447.9h0M188.5,1436h0M191.5,1424h0M194.9,1412.2h0M198.6,1400.6h0M203.2,1389.4h0M209.3,1379.4h0M216.7,1370.8h0M225.8,1364.7h0M234.8,1358.5h0M244.1,1353.1h0M253.8,1348.5h0M263.5,1344h0M273.2,1339.4h0M282.7,1334.4h0M292.2,1329.4h0M301.8,1324.3h0M311.4,1319.6h0M321.5,1316.7h0M331.6,1313.8h0M341.7,1310.9h0M351.8,1308h0M361.9,1305.2h0M372.1,1302.3h0M381.9,1298.6h0M390.9,1292.2h0"/>
<path d="M142.3,1607.1h0M145,1595h0M147.8,1583h0M150.5,1570.9h0M153.4,1559h0M157.6,1547.5h0M161.8,1536.1h0M165.8,1524.6h0M169.7,1513h0M173.5,1501.4h0M177,1489.7h0M180.3,1477.9h0M183.9,1466.2h0M187.8,1454.6h0M191.3,1442.9h0M194.4,1430.9h0M197.6,1419h0M200.7,1407.1h0M204.9,1395.8h0M210.1,1385h0M219.8,1380.7h0M229.6,1376.5h0M239.4,1372.3h0M248.9,1367.3h0M258.4,1362.2h0M267.9,1357.2h0M277.6,1352.5h0M287.3,1348.1h0M297.1,1343.8h0M306.8,1339.4h0M316.7,1335.3h0M326.5,1331.4h0M336.4,1327.4h0M346.2,1323.5h0M356.2,1319.9h0M366.2,1316.6h0M376.3,1313.2h0M386.4,1310.7h0M396.7,1308.7h0"/>
<path d="M143.3,1603.1h0M146.3,1591.2h0M149.2,1579.2h0M152.2,1567.2h0M155.7,1555.5h0M159.8,1544.1h0M164,1532.6h0M168,1521.1h0M171.8,1509.5h0M175.6,1497.9h0M179,1486.1h0M182.4,1474.3h0M186.1,1462.6h0M190,1451.1h0M193.3,1439.2h0M196.4,1427.3h0M199.8,1415.5h0M203.7,1404h0M210.3,1394.4h0M219.2,1388.4h0M228.8,1383.6h0M238.4,1378.8h0M248,1374h0M257.6,1369.2h0M267.2,1364.4h0M276.9,1360.2h0M286.9,1356.5h0M296.8,1352.9h0M306.8,1349.2h0M316.8,1345.8h0M326.8,1342.5h0M336.9,1339.3h0M346.9,1336h0M357.1,1333.6h0M367.3,1331.5h0M377.6,1329.5h0M387.9,1327.4h0M398.1,1325.4h0M408.4,1323.9h0M418.8,1322.7h0M429.1,1321.4h0M439.5,1320.1h0M449.4,1323.5h0M459.4,1327.3h0M469.3,1331h0M479.2,1334.7h0M489.3,1337.8h0M499.3,1340.9h0M509.2,1341.8h0M518.2,1335.7h0M527.3,1329.9h0M537.5,1332.8h0M547.5,1336.1h0M557.3,1340.3h0M567.5,1341.8h0M577.9,1342.9h0M588.3,1343.9h0M598.6,1344.9h0M609,1345.5h0M619.4,1346.2h0M629.8,1346.8h0M640.2,1347.4h0M650.6,1348h0M660.9,1347.3h0M671.3,1346.7h0M681.7,1346.1h0M692.1,1345.5h0M702.5,1344.9h0M712.9,1344.6h0M723.3,1344.3h0M733.7,1344h0M744.1,1343.7h0M754.5,1343.4h0M764.9,1343.1h0M775.3,1342.7h0M785.7,1342.4h0M796.1,1342.1h0M806.5,1342.2h0M816.9,1342.4h0M827.3,1342.7h0M837.7,1343h0M848.1,1343.2h0M858.5,1343.5h0M868.9,1343.8h0M879.2,1344h0M889.6,1344.3h0M900,1344.5h0M910.4,1344.8h0"/>
<path d="M143.5,1603.9h0M147.1,1592.1h0M150.7,1580.4h0M154.3,1568.7h0M158.1,1557.1h0M162.3,1545.7h0M166.4,1534.3h0M170.6,1522.8h0M174.8,1511.4h0M179,1500h0M182.7,1488.3h0M186.5,1476.7h0M190.3,1465.1h0M194.2,1453.5h0M197.9,1441.8h0M201.4,1430.1h0M205.5,1418.6h0M211.3,1408.7h0M219.3,1400.7h0M229.2,1396.9h0M239.2,1393.6h0M249.2,1390.3h0M258.8,1385.6h0M268.4,1380.8h0M278,1376h0M287.8,1371.7h0M297.6,1367.5h0M307.4,1363.4h0M317.2,1359.2h0M327.2,1355.7h0M337.2,1352.4h0M347.3,1349.1h0M357.3,1345.9h0M367.5,1343.7h0M377.8,1341.9h0M388.1,1340.1h0M398.4,1338.3h0M408.7,1337h0M419.1,1335.7h0M429.4,1334.5h0M439.8,1333.2h0M450.1,1332h0M460.5,1331.6h0M470.9,1331.2h0M481.3,1330.7h0M491.7,1330.3h0M502.1,1329.6h0M512.3,1327.5h0"/>
<path d="M145.4,1600.1h0M149.7,1588.7h0M154.1,1577.4h0M158.4,1566.1h0M163.3,1555h0M168.3,1544.1h0M173.4,1533.2h0M178,1522h0M182.5,1510.8h0M186.9,1499.5h0M191,1488h0M195.1,1476.5h0M199.2,1465.1h0M203.4,1453.7h0M207.9,1442.4h0M212.5,1431.3h0M219.3,1421.8h0M227.3,1414h0M236.1,1407.3h0M245.1,1401.2h0M254.5,1395.8h0M264.1,1391h0M273.8,1386.7h0M283.9,1383.4h0M293.9,1380h0M304,1377h0M314.1,1374.5h0M324.3,1371.9h0M334.5,1369.4h0M344.7,1367.1h0M355,1365h0M365.2,1363h0M375.5,1360.9h0M385.8,1359.4h0M396.2,1358.4h0M406.5,1357.3h0M416.9,1356.3h0M427.3,1355.5h0M437.7,1354.8h0M448.1,1354.1h0M458.4,1353.4h0M468.8,1352.7h0M479.2,1352.1h0M489.6,1351.7h0M500,1351.3h0M510.4,1351h0M520.8,1350.6h0M531.2,1350.3h0M541.6,1350.1h0M552,1350.4h0M562.4,1350.7h0M572.8,1351.1h0M583.2,1351.4h0M593.6,1351.8h0M604,1352.1h0M614.3,1352.5h0M624.7,1352.8h0M635.1,1353.2h0M645.5,1353.5h0M655.9,1353.9h0M666.3,1354.2h0M676.7,1354.6h0M687.1,1354.9h0M697.5,1355.3h0M707.9,1355.6h0M718.3,1355.9h0M728.7,1356.2h0M739.1,1356.5h0M749.5,1356.7h0M759.9,1357h0M770.3,1357.3h0M780.7,1357.5h0M791.1,1357.8h0M801.5,1358h0M811.9,1358.2h0M822.3,1358.4h0M832.7,1358.6h0M843.1,1358.7h0M853.5,1358.9h0M863.9,1359.1h0M874.3,1359.3h0M884.7,1359.4h0M895.1,1359.6h0M905.5,1359.8h0M915.9,1360h0"/>
<path d="M144.6,1601.7h0M148.8,1590.2h0M152.9,1578.8h0M157.1,1567.3h0M161.6,1556.1h0M166.4,1545h0M171.2,1533.9h0M175.5,1522.6h0M179.6,1511.1h0M183.8,1499.7h0M187.9,1488.2h0M192,1476.8h0M195.9,1465.2h0M199.8,1453.6h0M203.8,1442.1h0M207.8,1430.6h0M212.6,1419.5h0M218.1,1409h0M224.9,1399.5h0M233.5,1392.7h0M242.6,1386.6h0M252,1381.4h0M261.5,1376.3h0M271.4,1372.3h0M281.2,1368.4h0M291.2,1364.7h0M301.4,1362.4h0M311.6,1360.1h0M321.8,1357.8h0M332.1,1355.8h0M342.4,1354.5h0M352.8,1353.3h0M363.1,1352h0M373.5,1350.8h0M383.8,1349.8h0M394.2,1349.3h0M404.6,1348.8h0M415,1348.2h0M425.4,1347.7h0M435.8,1347.2h0M446.2,1346.9h0M456.6,1346.8h0M467,1346.7h0M477.4,1346.5h0M487.8,1346.4h0M498.2,1346.3h0M508.6,1346.1h0M519,1346h0"/>
<path d="M142.9,1606.8h0M147.4,1595.5h0M152,1584.3h0M156.5,1573.1h0M161.1,1561.9h0M166.1,1551h0M171.2,1540.1h0M176.2,1529.1h0M181,1518h0M185.7,1506.9h0M190.5,1495.8h0M195.2,1484.7h0M199.8,1473.5h0M204.4,1462.3h0M209.5,1451.5h0M215.3,1441.2h0M223.1,1432.9h0M231.6,1425.8h0M240.8,1420h0M250.4,1415.2h0M260.1,1410.8h0M270.2,1407.7h0M280.3,1404.8h0M290.4,1401.9h0M300.7,1400.1h0M311,1398.3h0M321.3,1396.5h0M331.6,1394.8h0M341.9,1393.8h0M352.3,1392.8h0M362.7,1391.7h0M373,1390.7h0M383.4,1389.6h0M393.7,1388.3h0M404.1,1387h0M414.4,1385.7h0M424.8,1384.4h0M435.1,1383.1h0M445.4,1381.8h0M455.8,1380.5h0"/>
<path d="M144.2,1598.2h0M146.8,1586.1h0M149.4,1574h0M152,1561.9h0M156.2,1550.5h0M160.4,1539.1h0M164.5,1527.6h0M168.3,1516h0M172.2,1504.4h0M175.7,1492.7h0M179,1480.9h0M182.6,1469.1h0M186.5,1457.6h0M190,1445.8h0M192.9,1433.8h0M195.7,1421.8h0M198.3,1409.7h0M201.4,1397.8h0M205.2,1386.3h0M210.7,1375.7h0M217.9,1367.1h0M226.7,1360.4h0M235.8,1354.3h0M244.9,1348.3h0M254.3,1342.9h0M263.9,1338.1h0M273.6,1333.7h0M283.6,1330.2h0M293.6,1326.9h0M303.7,1323.9h0M313.8,1321.2h0M324.1,1319.2h0M334.4,1317.6h0M344.8,1316.5h0M355.1,1315.5h0M365.5,1314.5h0M375.9,1313.4h0M386.2,1312.4h0M396.6,1311.6h0M407,1310.9h0M417.4,1310.2h0M427.8,1309.8h0M438.2,1309.5h0M448.6,1309.3h0M459,1309h0"/>
<path d="M142,1608.6h0M145,1596.7h0M148.1,1584.8h0M151.2,1572.8h0M154.4,1561h0M158.6,1549.5h0M162.8,1538.1h0M166.8,1526.6h0M170.7,1515h0M174.5,1503.4h0M178.3,1491.8h0M182,1480.2h0M185.6,1468.4h0M189.1,1456.7h0M192.3,1444.8h0M195.5,1432.9h0M198.7,1421.1h0M202.1,1409.3h0M206.9,1398.3h0M213.6,1389.1h0M222.3,1382.2h0M231.3,1376.2h0M240.6,1370.6h0M250,1365h0M259.3,1359.4h0M268.6,1354h0M278.1,1348.8h0M287.7,1344.1h0M297.6,1340.6h0M307.7,1337.4h0M317.9,1334.9h0M328.1,1332.5h0M338.4,1330.9h0M348.7,1329.5h0M359.1,1328.1h0M369.5,1327.5h0M379.8,1327h0M390.2,1326.5h0M400.6,1326h0M411,1325.8h0M421.4,1325.6h0M431.8,1325.4h0M442.2,1325.2h0M452.6,1324.9h0M463,1324.7h0M473.4,1324.5h0M483.8,1324.3h0M494.2,1324.1h0"/>
</g>
<line x1="115.4" y1="16" x2="115.4" y2="389" stroke="#000" stroke-width="2" fill="none"/>
<line x1="108" y1="17" x2="116" y2="17" stroke="#000" stroke-width="2" fill="none"/>
<text x="96.5" y="24.8" font-size="22" text-anchor="end">100</text>
<line x1="108" y1="78.8" x2="116" y2="78.8" stroke="#000" stroke-width="2" fill="none"/>
<text x="96.5" y="86.6" font-size="22" text-anchor="end">95</text>
<line x1="108" y1="140.7" x2="116" y2="140.7" stroke="#000" stroke-width="2" fill="none"/>
<text x="96.5" y="148.5" font-size="22" text-anchor="end">90</text>
<line x1="108" y1="202.5" x2="116" y2="202.5" stroke="#000" stroke-width="2" fill="none"/>
<text x="96.5" y="210.3" font-size="22" text-anchor="end">85</text>
<line x1="108" y1="264.4" x2="116" y2="264.4" stroke="#000" stroke-width="2" fill="none"/>
<text x="96.5" y="272.2" font-size="22" text-anchor="end">80</text>
<line x1="108" y1="326.2" x2="116" y2="326.2" stroke="#000" stroke-width="2" fill="none"/>
<text x="96.5" y="334.1" font-size="22" text-anchor="end">75</text>
<line x1="108" y1="388.1" x2="116" y2="388.1" stroke="#000" stroke-width="2" fill="none"/>
<text x="96.5" y="395.9" font-size="22" text-anchor="end">70</text>
<line x1="918" y1="416.5" x2="918" y2="789.5" stroke="#000" stroke-width="2" fill="none"/>
<line x1="917" y1="788.6" x2="925.5" y2="788.6" stroke="#000" stroke-width="2" fill="none"/>
<text x="936" y="796.4" font-size="22">0</text>
<line x1="917" y1="721" x2="925.5" y2="721" stroke="#000" stroke-width="2" fill="none"/>
<text x="936" y="728.8" font-size="22">20</text>
<line x1="917" y1="653.4" x2="925.5" y2="653.4" stroke="#000" stroke-width="2" fill="none"/>
<text x="936" y="661.2" font-size="22">40</text>
<line x1="917" y1="585.7" x2="925.5" y2="585.7" stroke="#000" stroke-width="2" fill="none"/>
<text x="936" y="593.5" font-size="22">60</text>
<line x1="917" y1="518.1" x2="925.5" y2="518.1" stroke="#000" stroke-width="2" fill="none"/>
<text x="936" y="525.9" font-size="22">80</text>
<line x1="917" y1="450.5" x2="925.5" y2="450.5" stroke="#000" stroke-width="2" fill="none"/>
<text x="936" y="458.3" font-size="22">100</text>
<line x1="115.4" y1="827.6" x2="115.4" y2="1201" stroke="#000" stroke-width="2" fill="none"/>
<line x1="108" y1="828.6" x2="116" y2="828.6" stroke="#000" stroke-width="2" fill="none"/>
<text x="96.5" y="836.4" font-size="22" text-anchor="end">21</text>
<line x1="108" y1="908.2" x2="116" y2="908.2" stroke="#000" stroke-width="2" fill="none"/>
<text x="96.5" y="916" font-size="22" text-anchor="end">18</text>
<line x1="108" y1="987.8" x2="116" y2="987.8" stroke="#000" stroke-width="2" fill="none"/>
<text x="96.5" y="995.6" font-size="22" text-anchor="end">15</text>
<line x1="108" y1="1067.4" x2="116" y2="1067.4" stroke="#000" stroke-width="2" fill="none"/>
<text x="96.5" y="1075.2" font-size="22" text-anchor="end">12</text>
<line x1="108" y1="1147" x2="116" y2="1147" stroke="#000" stroke-width="2" fill="none"/>
<text x="96.5" y="1154.8" font-size="22" text-anchor="end">9</text>
<line x1="918" y1="1239.5" x2="918" y2="1612.5" stroke="#000" stroke-width="2" fill="none"/>
<line x1="917" y1="1611.5" x2="925.5" y2="1611.5" stroke="#000" stroke-width="2" fill="none"/>
<text x="936" y="1619.3" font-size="22">0</text>
<line x1="917" y1="1558.5" x2="925.5" y2="1558.5" stroke="#000" stroke-width="2" fill="none"/>
<text x="936" y="1566.3" font-size="22">1</text>
<line x1="917" y1="1505.5" x2="925.5" y2="1505.5" stroke="#000" stroke-width="2" fill="none"/>
<text x="936" y="1513.3" font-size="22">2</text>
<line x1="917" y1="1452.5" x2="925.5" y2="1452.5" stroke="#000" stroke-width="2" fill="none"/>
<text x="936" y="1460.3" font-size="22">3</text>
<line x1="917" y1="1399.5" x2="925.5" y2="1399.5" stroke="#000" stroke-width="2" fill="none"/>
<text x="936" y="1407.3" font-size="22">4</text>
<line x1="917" y1="1346.5" x2="925.5" y2="1346.5" stroke="#000" stroke-width="2" fill="none"/>
<text x="936" y="1354.3" font-size="22">5</text>
<line x1="917" y1="1293.5" x2="925.5" y2="1293.5" stroke="#000" stroke-width="2" fill="none"/>
<text x="936" y="1301.3" font-size="22">6</text>
<line x1="917" y1="1240.5" x2="925.5" y2="1240.5" stroke="#000" stroke-width="2" fill="none"/>
<text x="936" y="1248.3" font-size="22">7</text>
<line x1="115.5" y1="1612" x2="918" y2="1612" stroke="#000" stroke-width="2" fill="none"/>
<line x1="141.6" y1="1611" x2="141.6" y2="1620" stroke="#000" stroke-width="2" fill="none"/>
<text x="141.6" y="1649" font-size="22" text-anchor="middle">0</text>
<line x1="271" y1="1611" x2="271" y2="1620" stroke="#000" stroke-width="2" fill="none"/>
<text x="271" y="1649" font-size="22" text-anchor="middle">5</text>
<line x1="400.4" y1="1611" x2="400.4" y2="1620" stroke="#000" stroke-width="2" fill="none"/>
<text x="400.4" y="1649" font-size="22" text-anchor="middle">10</text>
<line x1="529.8" y1="1611" x2="529.8" y2="1620" stroke="#000" stroke-width="2" fill="none"/>
<text x="529.8" y="1649" font-size="22" text-anchor="middle">15</text>
<line x1="659.2" y1="1611" x2="659.2" y2="1620" stroke="#000" stroke-width="2" fill="none"/>
<text x="659.2" y="1649" font-size="22" text-anchor="middle">20</text>
<line x1="788.6" y1="1611" x2="788.6" y2="1620" stroke="#000" stroke-width="2" fill="none"/>
<text x="788.6" y="1649" font-size="22" text-anchor="middle">25</text>
<line x1="918" y1="1611" x2="918" y2="1620" stroke="#000" stroke-width="2" fill="none"/>
<text x="918" y="1649" font-size="22" text-anchor="middle">30</text>
<text x="516.5" y="1680.5" font-size="24.5" text-anchor="middle">Time (min)</text>
<text x="0.5" y="30.3" font-size="42.5" font-weight="bold">A</text>
<text x="1.5" y="451.3" font-size="42.5" font-weight="bold">B</text>
<text x="0" y="840.5" font-size="42.5" font-weight="bold">C</text>
<text x="0" y="1271.8" font-size="42.5" font-weight="bold">D</text>
<text transform="translate(48,203) rotate(-90)" font-size="23.3" text-anchor="middle">SpO<tspan dy="7.5" font-size="21.5">2</tspan><tspan dy="-7.5"> (%)</tspan></text>
<text transform="translate(993.5,603.3) rotate(-90)" font-size="23.3" text-anchor="middle">VE (l/min)</text>
<text transform="translate(54,1015) rotate(-90)" font-size="23.3" text-anchor="middle">O<tspan dy="7.5" font-size="21.5">2</tspan><tspan dy="-7.5"> pocket (%)</tspan></text>
<text transform="translate(989.5,1425) rotate(-90)" font-size="23.3" text-anchor="middle">CO<tspan dy="7.5" font-size="21.5">2</tspan><tspan dy="-7.5"> pocket (%)</tspan></text>
</svg></body></html>
